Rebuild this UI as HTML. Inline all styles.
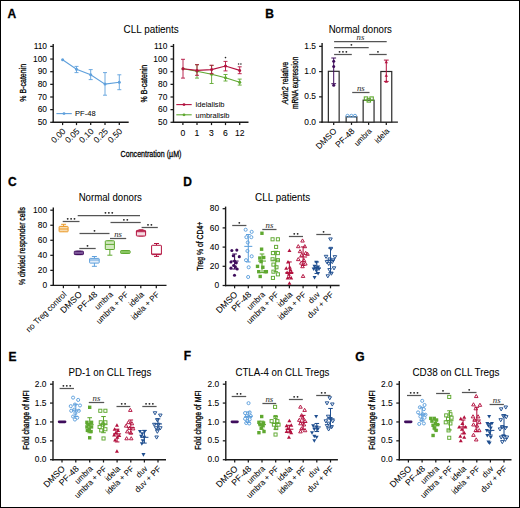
<!DOCTYPE html><html><head><meta charset="utf-8"><style>html,body{margin:0;padding:0;background:#fff;overflow:hidden}svg{display:block}</style></head><body>
<svg width="520" height="508" viewBox="0 0 520 508" font-family='"Liberation Sans", sans-serif'>
<rect x="0" y="0" width="520" height="508" fill="#fff"/>
<text x="7.4" y="17.9" font-size="12" text-anchor="start" fill="#000" stroke="#000" stroke-width="0.3" font-weight="bold">A</text>
<text x="265.3" y="18" font-size="12" text-anchor="start" fill="#000" stroke="#000" stroke-width="0.3" font-weight="bold">B</text>
<text x="7.9" y="186" font-size="12" text-anchor="start" fill="#000" stroke="#000" stroke-width="0.3" font-weight="bold">C</text>
<text x="183.2" y="186" font-size="12" text-anchor="start" fill="#000" stroke="#000" stroke-width="0.3" font-weight="bold">D</text>
<text x="8.4" y="360.6" font-size="12" text-anchor="start" fill="#000" stroke="#000" stroke-width="0.3" font-weight="bold">E</text>
<text x="183.8" y="360.4" font-size="12" text-anchor="start" fill="#000" stroke="#000" stroke-width="0.3" font-weight="bold">F</text>
<text x="355.2" y="360.9" font-size="12" text-anchor="start" fill="#000" stroke="#000" stroke-width="0.3" font-weight="bold">G</text>
<text x="151.2" y="32.9" font-size="10.2" text-anchor="middle" fill="#000" stroke="#000" stroke-width="0.04" textLength="55.2" lengthAdjust="spacingAndGlyphs">CLL patients</text>
<line x1="53.2" y1="44" x2="53.2" y2="123" stroke="#1a1a1a" stroke-width="1.4" stroke-linecap="butt"/>
<line x1="50.2" y1="122.3" x2="53.2" y2="122.3" stroke="#1a1a1a" stroke-width="1.25" stroke-linecap="butt"/>
<text x="47" y="124.9" font-size="8.4" text-anchor="end" fill="#000" stroke="#000" stroke-width="0.07">50</text>
<line x1="50.2" y1="109.65" x2="53.2" y2="109.65" stroke="#1a1a1a" stroke-width="1.25" stroke-linecap="butt"/>
<text x="47" y="112.25" font-size="8.4" text-anchor="end" fill="#000" stroke="#000" stroke-width="0.07">60</text>
<line x1="50.2" y1="97" x2="53.2" y2="97" stroke="#1a1a1a" stroke-width="1.25" stroke-linecap="butt"/>
<text x="47" y="99.6" font-size="8.4" text-anchor="end" fill="#000" stroke="#000" stroke-width="0.07">70</text>
<line x1="50.2" y1="84.35" x2="53.2" y2="84.35" stroke="#1a1a1a" stroke-width="1.25" stroke-linecap="butt"/>
<text x="47" y="86.95" font-size="8.4" text-anchor="end" fill="#000" stroke="#000" stroke-width="0.07">80</text>
<line x1="50.2" y1="71.7" x2="53.2" y2="71.7" stroke="#1a1a1a" stroke-width="1.25" stroke-linecap="butt"/>
<text x="47" y="74.3" font-size="8.4" text-anchor="end" fill="#000" stroke="#000" stroke-width="0.07">90</text>
<line x1="50.2" y1="59.05" x2="53.2" y2="59.05" stroke="#1a1a1a" stroke-width="1.25" stroke-linecap="butt"/>
<text x="47" y="61.65" font-size="8.4" text-anchor="end" fill="#000" stroke="#000" stroke-width="0.07">100</text>
<line x1="50.2" y1="46.4" x2="53.2" y2="46.4" stroke="#1a1a1a" stroke-width="1.25" stroke-linecap="butt"/>
<text x="47" y="49" font-size="8.4" text-anchor="end" fill="#000" stroke="#000" stroke-width="0.07">110</text>
<line x1="52.5" y1="122.3" x2="128.7" y2="122.3" stroke="#1a1a1a" stroke-width="1.4" stroke-linecap="butt"/>
<line x1="62.6" y1="122.3" x2="62.6" y2="125.1" stroke="#1a1a1a" stroke-width="1.25" stroke-linecap="butt"/>
<line x1="76.5" y1="122.3" x2="76.5" y2="125.1" stroke="#1a1a1a" stroke-width="1.25" stroke-linecap="butt"/>
<line x1="90.7" y1="122.3" x2="90.7" y2="125.1" stroke="#1a1a1a" stroke-width="1.25" stroke-linecap="butt"/>
<line x1="105" y1="122.3" x2="105" y2="125.1" stroke="#1a1a1a" stroke-width="1.25" stroke-linecap="butt"/>
<line x1="119.3" y1="122.3" x2="119.3" y2="125.1" stroke="#1a1a1a" stroke-width="1.25" stroke-linecap="butt"/>
<text x="66.2" y="131.9" font-size="8.5" text-anchor="end" fill="#000" stroke="#000" stroke-width="0.03" transform="rotate(-45 66.2 131.9)">0.00</text>
<text x="80.1" y="131.9" font-size="8.5" text-anchor="end" fill="#000" stroke="#000" stroke-width="0.03" transform="rotate(-45 80.1 131.9)">0.05</text>
<text x="94.3" y="131.9" font-size="8.5" text-anchor="end" fill="#000" stroke="#000" stroke-width="0.03" transform="rotate(-45 94.3 131.9)">0.10</text>
<text x="108.6" y="131.9" font-size="8.5" text-anchor="end" fill="#000" stroke="#000" stroke-width="0.03" transform="rotate(-45 108.6 131.9)">0.25</text>
<text x="122.9" y="131.9" font-size="8.5" text-anchor="end" fill="#000" stroke="#000" stroke-width="0.03" transform="rotate(-45 122.9 131.9)">0.50</text>
<text x="26.5" y="82.8" font-size="9.5" text-anchor="middle" fill="#000" stroke="#000" stroke-width="0.3" textLength="38" lengthAdjust="spacingAndGlyphs" transform="rotate(-90 26.5 82.8)">% B-catenin</text>
<polyline points="62.6,59.7 76.5,69.2 90.7,74.8 105,84.1 119.3,82.3" fill="none" stroke="#5fa0dc" stroke-width="1.1"/>
<circle cx="62.6" cy="59.7" r="1.5" fill="#5fa0dc"/>
<line x1="76.5" y1="66.4" x2="76.5" y2="72.6" stroke="#5fa0dc" stroke-width="0.9" stroke-linecap="butt"/>
<line x1="74.5" y1="66.4" x2="78.5" y2="66.4" stroke="#5fa0dc" stroke-width="0.9" stroke-linecap="butt"/>
<line x1="74.5" y1="72.6" x2="78.5" y2="72.6" stroke="#5fa0dc" stroke-width="0.9" stroke-linecap="butt"/>
<circle cx="76.5" cy="69.2" r="1.5" fill="#5fa0dc"/>
<line x1="90.7" y1="69.6" x2="90.7" y2="79.6" stroke="#5fa0dc" stroke-width="0.9" stroke-linecap="butt"/>
<line x1="88.7" y1="69.6" x2="92.7" y2="69.6" stroke="#5fa0dc" stroke-width="0.9" stroke-linecap="butt"/>
<line x1="88.7" y1="79.6" x2="92.7" y2="79.6" stroke="#5fa0dc" stroke-width="0.9" stroke-linecap="butt"/>
<circle cx="90.7" cy="74.8" r="1.5" fill="#5fa0dc"/>
<line x1="105" y1="72.6" x2="105" y2="95.2" stroke="#5fa0dc" stroke-width="0.9" stroke-linecap="butt"/>
<line x1="103" y1="72.6" x2="107" y2="72.6" stroke="#5fa0dc" stroke-width="0.9" stroke-linecap="butt"/>
<line x1="103" y1="95.2" x2="107" y2="95.2" stroke="#5fa0dc" stroke-width="0.9" stroke-linecap="butt"/>
<circle cx="105" cy="84.1" r="1.5" fill="#5fa0dc"/>
<line x1="119.3" y1="74.8" x2="119.3" y2="89.7" stroke="#5fa0dc" stroke-width="0.9" stroke-linecap="butt"/>
<line x1="117.3" y1="74.8" x2="121.3" y2="74.8" stroke="#5fa0dc" stroke-width="0.9" stroke-linecap="butt"/>
<line x1="117.3" y1="89.7" x2="121.3" y2="89.7" stroke="#5fa0dc" stroke-width="0.9" stroke-linecap="butt"/>
<circle cx="119.3" cy="82.3" r="1.5" fill="#5fa0dc"/>
<line x1="56.4" y1="113.6" x2="71.8" y2="113.6" stroke="#5fa0dc" stroke-width="1.1" stroke-linecap="butt"/>
<circle cx="64" cy="113.6" r="1.4" fill="#5fa0dc"/>
<text x="75" y="115.9" font-size="7.7" text-anchor="start" fill="#000" stroke="#000" stroke-width="0.03" textLength="20.6" lengthAdjust="spacingAndGlyphs">PF-48</text>
<line x1="173.5" y1="44" x2="173.5" y2="123" stroke="#1a1a1a" stroke-width="1.4" stroke-linecap="butt"/>
<line x1="170.5" y1="122.3" x2="173.5" y2="122.3" stroke="#1a1a1a" stroke-width="1.25" stroke-linecap="butt"/>
<text x="167.3" y="124.9" font-size="8.4" text-anchor="end" fill="#000" stroke="#000" stroke-width="0.07">50</text>
<line x1="170.5" y1="109.65" x2="173.5" y2="109.65" stroke="#1a1a1a" stroke-width="1.25" stroke-linecap="butt"/>
<text x="167.3" y="112.25" font-size="8.4" text-anchor="end" fill="#000" stroke="#000" stroke-width="0.07">60</text>
<line x1="170.5" y1="97" x2="173.5" y2="97" stroke="#1a1a1a" stroke-width="1.25" stroke-linecap="butt"/>
<text x="167.3" y="99.6" font-size="8.4" text-anchor="end" fill="#000" stroke="#000" stroke-width="0.07">70</text>
<line x1="170.5" y1="84.35" x2="173.5" y2="84.35" stroke="#1a1a1a" stroke-width="1.25" stroke-linecap="butt"/>
<text x="167.3" y="86.95" font-size="8.4" text-anchor="end" fill="#000" stroke="#000" stroke-width="0.07">80</text>
<line x1="170.5" y1="71.7" x2="173.5" y2="71.7" stroke="#1a1a1a" stroke-width="1.25" stroke-linecap="butt"/>
<text x="167.3" y="74.3" font-size="8.4" text-anchor="end" fill="#000" stroke="#000" stroke-width="0.07">90</text>
<line x1="170.5" y1="59.05" x2="173.5" y2="59.05" stroke="#1a1a1a" stroke-width="1.25" stroke-linecap="butt"/>
<text x="167.3" y="61.65" font-size="8.4" text-anchor="end" fill="#000" stroke="#000" stroke-width="0.07">100</text>
<line x1="170.5" y1="46.4" x2="173.5" y2="46.4" stroke="#1a1a1a" stroke-width="1.25" stroke-linecap="butt"/>
<text x="167.3" y="49" font-size="8.4" text-anchor="end" fill="#000" stroke="#000" stroke-width="0.07">110</text>
<line x1="172.8" y1="122.3" x2="248.5" y2="122.3" stroke="#1a1a1a" stroke-width="1.4" stroke-linecap="butt"/>
<line x1="182.9" y1="122.3" x2="182.9" y2="125.1" stroke="#1a1a1a" stroke-width="1.25" stroke-linecap="butt"/>
<line x1="197" y1="122.3" x2="197" y2="125.1" stroke="#1a1a1a" stroke-width="1.25" stroke-linecap="butt"/>
<line x1="211.5" y1="122.3" x2="211.5" y2="125.1" stroke="#1a1a1a" stroke-width="1.25" stroke-linecap="butt"/>
<line x1="225.5" y1="122.3" x2="225.5" y2="125.1" stroke="#1a1a1a" stroke-width="1.25" stroke-linecap="butt"/>
<line x1="239.7" y1="122.3" x2="239.7" y2="125.1" stroke="#1a1a1a" stroke-width="1.25" stroke-linecap="butt"/>
<text x="182.9" y="136.2" font-size="8.6" text-anchor="middle" fill="#000" stroke="#000" stroke-width="0.07">0</text>
<text x="197" y="136.2" font-size="8.6" text-anchor="middle" fill="#000" stroke="#000" stroke-width="0.07">1</text>
<text x="211.5" y="136.2" font-size="8.6" text-anchor="middle" fill="#000" stroke="#000" stroke-width="0.07">3</text>
<text x="225.5" y="136.2" font-size="8.6" text-anchor="middle" fill="#000" stroke="#000" stroke-width="0.07">6</text>
<text x="239.7" y="136.2" font-size="8.6" text-anchor="middle" fill="#000" stroke="#000" stroke-width="0.07">12</text>
<text x="146.6" y="83.6" font-size="9.5" text-anchor="middle" fill="#000" stroke="#000" stroke-width="0.3" textLength="37.6" lengthAdjust="spacingAndGlyphs" transform="rotate(-90 146.6 83.6)">% B-catenin</text>
<polyline points="183,68.8 197,71.2 211.6,74.2 225.5,77.8 239.7,82.2" fill="none" stroke="#5fa830" stroke-width="1.1"/>
<circle cx="183" cy="68.8" r="1.5" fill="#5fa830"/>
<line x1="197" y1="64.7" x2="197" y2="78.1" stroke="#5fa830" stroke-width="0.9" stroke-linecap="butt"/>
<line x1="195" y1="64.7" x2="199" y2="64.7" stroke="#5fa830" stroke-width="0.9" stroke-linecap="butt"/>
<line x1="195" y1="78.1" x2="199" y2="78.1" stroke="#5fa830" stroke-width="0.9" stroke-linecap="butt"/>
<circle cx="197" cy="71.2" r="1.5" fill="#5fa830"/>
<line x1="211.6" y1="65.5" x2="211.6" y2="83.5" stroke="#5fa830" stroke-width="0.9" stroke-linecap="butt"/>
<line x1="209.6" y1="65.5" x2="213.6" y2="65.5" stroke="#5fa830" stroke-width="0.9" stroke-linecap="butt"/>
<line x1="209.6" y1="83.5" x2="213.6" y2="83.5" stroke="#5fa830" stroke-width="0.9" stroke-linecap="butt"/>
<circle cx="211.6" cy="74.2" r="1.5" fill="#5fa830"/>
<line x1="225.5" y1="74.5" x2="225.5" y2="81" stroke="#5fa830" stroke-width="0.9" stroke-linecap="butt"/>
<line x1="223.5" y1="74.5" x2="227.5" y2="74.5" stroke="#5fa830" stroke-width="0.9" stroke-linecap="butt"/>
<line x1="223.5" y1="81" x2="227.5" y2="81" stroke="#5fa830" stroke-width="0.9" stroke-linecap="butt"/>
<circle cx="225.5" cy="77.8" r="1.5" fill="#5fa830"/>
<line x1="239.7" y1="79.1" x2="239.7" y2="85.1" stroke="#5fa830" stroke-width="0.9" stroke-linecap="butt"/>
<line x1="237.7" y1="79.1" x2="241.7" y2="79.1" stroke="#5fa830" stroke-width="0.9" stroke-linecap="butt"/>
<line x1="237.7" y1="85.1" x2="241.7" y2="85.1" stroke="#5fa830" stroke-width="0.9" stroke-linecap="butt"/>
<circle cx="239.7" cy="82.2" r="1.5" fill="#5fa830"/>
<polyline points="183,68.8 197,70.4 211.6,69.6 225.5,66 239.7,70.4" fill="none" stroke="#b3123f" stroke-width="1.1"/>
<line x1="183" y1="59.3" x2="183" y2="78.1" stroke="#b3123f" stroke-width="0.9" stroke-linecap="butt"/>
<line x1="181" y1="59.3" x2="185" y2="59.3" stroke="#b3123f" stroke-width="0.9" stroke-linecap="butt"/>
<line x1="181" y1="78.1" x2="185" y2="78.1" stroke="#b3123f" stroke-width="0.9" stroke-linecap="butt"/>
<circle cx="183" cy="68.8" r="1.5" fill="#b3123f"/>
<line x1="197" y1="64.7" x2="197" y2="75.3" stroke="#b3123f" stroke-width="0.9" stroke-linecap="butt"/>
<line x1="195" y1="64.7" x2="199" y2="64.7" stroke="#b3123f" stroke-width="0.9" stroke-linecap="butt"/>
<line x1="195" y1="75.3" x2="199" y2="75.3" stroke="#b3123f" stroke-width="0.9" stroke-linecap="butt"/>
<circle cx="197" cy="70.4" r="1.5" fill="#b3123f"/>
<line x1="211.6" y1="65.2" x2="211.6" y2="73.7" stroke="#b3123f" stroke-width="0.9" stroke-linecap="butt"/>
<line x1="209.6" y1="65.2" x2="213.6" y2="65.2" stroke="#b3123f" stroke-width="0.9" stroke-linecap="butt"/>
<line x1="209.6" y1="73.7" x2="213.6" y2="73.7" stroke="#b3123f" stroke-width="0.9" stroke-linecap="butt"/>
<circle cx="211.6" cy="69.6" r="1.5" fill="#b3123f"/>
<line x1="225.5" y1="61.4" x2="225.5" y2="70.9" stroke="#b3123f" stroke-width="0.9" stroke-linecap="butt"/>
<line x1="223.5" y1="61.4" x2="227.5" y2="61.4" stroke="#b3123f" stroke-width="0.9" stroke-linecap="butt"/>
<line x1="223.5" y1="70.9" x2="227.5" y2="70.9" stroke="#b3123f" stroke-width="0.9" stroke-linecap="butt"/>
<circle cx="225.5" cy="66" r="1.5" fill="#b3123f"/>
<line x1="239.7" y1="66.8" x2="239.7" y2="73.7" stroke="#b3123f" stroke-width="0.9" stroke-linecap="butt"/>
<line x1="237.7" y1="66.8" x2="241.7" y2="66.8" stroke="#b3123f" stroke-width="0.9" stroke-linecap="butt"/>
<line x1="237.7" y1="73.7" x2="241.7" y2="73.7" stroke="#b3123f" stroke-width="0.9" stroke-linecap="butt"/>
<circle cx="239.7" cy="70.4" r="1.5" fill="#b3123f"/>
<circle cx="225.5" cy="57.6" r="0.8" fill="#222"/>
<circle cx="238.6" cy="64" r="0.8" fill="#222"/><circle cx="240.9" cy="64" r="0.8" fill="#222"/>
<line x1="176.3" y1="104.6" x2="191.7" y2="104.6" stroke="#b3123f" stroke-width="1.1" stroke-linecap="butt"/>
<circle cx="184" cy="104.6" r="1.4" fill="#b3123f"/>
<text x="195.6" y="107.4" font-size="7.8" text-anchor="start" fill="#000" stroke="#000" stroke-width="0.03" textLength="28.9" lengthAdjust="spacingAndGlyphs">idelalisib</text>
<line x1="176.3" y1="114.8" x2="191.7" y2="114.8" stroke="#5fa830" stroke-width="1.1" stroke-linecap="butt"/>
<circle cx="184" cy="114.8" r="1.4" fill="#5fa830"/>
<text x="195.6" y="117.6" font-size="7.8" text-anchor="start" fill="#000" stroke="#000" stroke-width="0.03" textLength="33.9" lengthAdjust="spacingAndGlyphs">umbralisib</text>
<text x="151" y="157.2" font-size="9.9" text-anchor="middle" fill="#000" stroke="#000" stroke-width="0.3" textLength="60.8" lengthAdjust="spacingAndGlyphs">Concentration (µM)</text>
<text x="360.3" y="32.7" font-size="10.2" text-anchor="middle" fill="#000" stroke="#000" stroke-width="0.04" textLength="63.3" lengthAdjust="spacingAndGlyphs">Normal donors</text>
<line x1="322.1" y1="43" x2="322.1" y2="122.8" stroke="#1a1a1a" stroke-width="1.4" stroke-linecap="butt"/>
<line x1="319.1" y1="122.1" x2="322.1" y2="122.1" stroke="#1a1a1a" stroke-width="1.25" stroke-linecap="butt"/>
<text x="315.9" y="124.7" font-size="8.4" text-anchor="end" fill="#000" stroke="#000" stroke-width="0.07">0.0</text>
<line x1="319.1" y1="96.85" x2="322.1" y2="96.85" stroke="#1a1a1a" stroke-width="1.25" stroke-linecap="butt"/>
<text x="315.9" y="99.45" font-size="8.4" text-anchor="end" fill="#000" stroke="#000" stroke-width="0.07">0.5</text>
<line x1="319.1" y1="71.6" x2="322.1" y2="71.6" stroke="#1a1a1a" stroke-width="1.25" stroke-linecap="butt"/>
<text x="315.9" y="74.2" font-size="8.4" text-anchor="end" fill="#000" stroke="#000" stroke-width="0.07">1.0</text>
<line x1="319.1" y1="46.35" x2="322.1" y2="46.35" stroke="#1a1a1a" stroke-width="1.25" stroke-linecap="butt"/>
<text x="315.9" y="48.95" font-size="8.4" text-anchor="end" fill="#000" stroke="#000" stroke-width="0.07">1.5</text>
<line x1="321.4" y1="122.1" x2="397.9" y2="122.1" stroke="#1a1a1a" stroke-width="1.4" stroke-linecap="butt"/>
<line x1="333.7" y1="122.1" x2="333.7" y2="124.9" stroke="#1a1a1a" stroke-width="1.25" stroke-linecap="butt"/>
<line x1="351.5" y1="122.1" x2="351.5" y2="124.9" stroke="#1a1a1a" stroke-width="1.25" stroke-linecap="butt"/>
<line x1="368.6" y1="122.1" x2="368.6" y2="124.9" stroke="#1a1a1a" stroke-width="1.25" stroke-linecap="butt"/>
<line x1="386.3" y1="122.1" x2="386.3" y2="124.9" stroke="#1a1a1a" stroke-width="1.25" stroke-linecap="butt"/>
<text x="337.3" y="131.7" font-size="8.5" text-anchor="end" fill="#000" stroke="#000" stroke-width="0.03" transform="rotate(-45 337.3 131.7)">DMSO</text>
<text x="355.1" y="131.7" font-size="8.5" text-anchor="end" fill="#000" stroke="#000" stroke-width="0.03" transform="rotate(-45 355.1 131.7)">PF-48</text>
<text x="372.2" y="131.7" font-size="8.02" text-anchor="end" fill="#000" stroke="#000" stroke-width="0.03" textLength="20.9" lengthAdjust="spacingAndGlyphs" transform="rotate(-45 372.2 131.7)">umbra</text>
<text x="389.9" y="131.7" font-size="8.02" text-anchor="end" fill="#000" stroke="#000" stroke-width="0.03" textLength="16.94" lengthAdjust="spacingAndGlyphs" transform="rotate(-45 389.9 131.7)">idela</text>
<text font-size="9.2" fill="#000" stroke="#000" stroke-width="0.3" text-anchor="middle" transform="translate(288.2 83.0) rotate(-90)" textLength="42.5" lengthAdjust="spacingAndGlyphs"><tspan font-style="italic">Axin2</tspan> relative</text>
<text x="298.3" y="82.8" font-size="8.8" text-anchor="middle" fill="#000" stroke="#000" stroke-width="0.3" textLength="52.3" lengthAdjust="spacingAndGlyphs" transform="rotate(-90 298.3 82.8)">mRNA expression</text>
<rect x="328.35" y="71.3" width="10.8" height="50.8" fill="#fff" stroke="#2a2a2a" stroke-width="1.2"/>
<rect x="346.15" y="116.8" width="10.7" height="5.3" fill="#fff" stroke="#2a2a2a" stroke-width="1.2"/>
<rect x="363.15" y="100.2" width="10.9" height="21.9" fill="#fff" stroke="#2a2a2a" stroke-width="1.2"/>
<rect x="380.85" y="71.5" width="10.9" height="50.6" fill="#fff" stroke="#2a2a2a" stroke-width="1.2"/>
<line x1="333.7" y1="58" x2="333.7" y2="83.7" stroke="#3f0d5c" stroke-width="1.0" stroke-linecap="butt"/>
<line x1="331.3" y1="58" x2="336.1" y2="58" stroke="#3f0d5c" stroke-width="1.0" stroke-linecap="butt"/>
<line x1="331.3" y1="83.7" x2="336.1" y2="83.7" stroke="#3f0d5c" stroke-width="1.0" stroke-linecap="butt"/>
<circle cx="333.7" cy="61.2" r="1.5" fill="#3f0d5c"/>
<circle cx="333.7" cy="66.5" r="1.5" fill="#3f0d5c"/>
<circle cx="333.7" cy="85.3" r="1.5" fill="#3f0d5c"/>
<line x1="386.3" y1="60.1" x2="386.3" y2="81.4" stroke="#b3123f" stroke-width="1.0" stroke-linecap="butt"/>
<line x1="383.9" y1="60.1" x2="388.7" y2="60.1" stroke="#b3123f" stroke-width="1.0" stroke-linecap="butt"/>
<line x1="383.9" y1="81.4" x2="388.7" y2="81.4" stroke="#b3123f" stroke-width="1.0" stroke-linecap="butt"/>
<polygon points="386.3,60.35 387.95,63.24 384.65,63.24" fill="#b3123f"/>
<polygon points="386.3,73.75 387.95,76.64 384.65,76.64" fill="#b3123f"/>
<polygon points="386.3,79.75 387.95,82.64 384.65,82.64" fill="#b3123f"/>
<circle cx="347.5" cy="115.8" r="1.55" fill="none" stroke="#5fa0dc" stroke-width="0.95"/>
<circle cx="351.4" cy="115.8" r="1.55" fill="none" stroke="#5fa0dc" stroke-width="0.95"/>
<circle cx="355" cy="115.8" r="1.55" fill="none" stroke="#5fa0dc" stroke-width="0.95"/>
<rect x="364.3" y="96.9" width="3.4" height="3.4" fill="none" stroke="#5fa830" stroke-width="1.1"/>
<rect x="369.9" y="96.9" width="3.4" height="3.4" fill="none" stroke="#5fa830" stroke-width="1.1"/>
<rect x="367.1" y="98.7" width="3.4" height="3.4" fill="none" stroke="#5fa830" stroke-width="1.1"/>
<line x1="334.1" y1="41.5" x2="386.7" y2="41.5" stroke="#555555" stroke-width="1.25" stroke-linecap="butt"/>
<text x="360.4" y="39.5" font-size="8.8" text-anchor="middle" font-family="Liberation Serif, serif" font-style="italic" fill="#333" stroke="#333" stroke-width="0.05">ns</text>
<line x1="334.1" y1="47.5" x2="368.7" y2="47.5" stroke="#555555" stroke-width="1.25" stroke-linecap="butt"/>
<circle cx="351.4" cy="44.8" r="0.92" fill="#222"/>
<line x1="334.1" y1="54.5" x2="351.8" y2="54.5" stroke="#555555" stroke-width="1.25" stroke-linecap="butt"/>
<circle cx="339.55" cy="51.8" r="0.92" fill="#222"/>
<circle cx="342.95" cy="51.8" r="0.92" fill="#222"/>
<circle cx="346.35" cy="51.8" r="0.92" fill="#222"/>
<line x1="369.2" y1="54.5" x2="386.7" y2="54.5" stroke="#555555" stroke-width="1.25" stroke-linecap="butt"/>
<circle cx="377.95" cy="51.8" r="0.92" fill="#222"/>
<line x1="352.2" y1="92.5" x2="369.5" y2="92.5" stroke="#555555" stroke-width="1.25" stroke-linecap="butt"/>
<text x="360.85" y="90.5" font-size="8.8" text-anchor="middle" font-family="Liberation Serif, serif" font-style="italic" fill="#333" stroke="#333" stroke-width="0.05">ns</text>
<text x="110.3" y="200.7" font-size="10.2" text-anchor="middle" fill="#000" stroke="#000" stroke-width="0.04" textLength="63.3" lengthAdjust="spacingAndGlyphs">Normal donors</text>
<line x1="53.3" y1="207.5" x2="53.3" y2="286.1" stroke="#1a1a1a" stroke-width="1.4" stroke-linecap="butt"/>
<line x1="50.3" y1="285.4" x2="53.3" y2="285.4" stroke="#1a1a1a" stroke-width="1.25" stroke-linecap="butt"/>
<text x="47.1" y="288" font-size="8.4" text-anchor="end" fill="#000" stroke="#000" stroke-width="0.07">0</text>
<line x1="50.3" y1="270.36" x2="53.3" y2="270.36" stroke="#1a1a1a" stroke-width="1.25" stroke-linecap="butt"/>
<text x="47.1" y="272.96" font-size="8.4" text-anchor="end" fill="#000" stroke="#000" stroke-width="0.07">20</text>
<line x1="50.3" y1="255.32" x2="53.3" y2="255.32" stroke="#1a1a1a" stroke-width="1.25" stroke-linecap="butt"/>
<text x="47.1" y="257.92" font-size="8.4" text-anchor="end" fill="#000" stroke="#000" stroke-width="0.07">40</text>
<line x1="50.3" y1="240.28" x2="53.3" y2="240.28" stroke="#1a1a1a" stroke-width="1.25" stroke-linecap="butt"/>
<text x="47.1" y="242.88" font-size="8.4" text-anchor="end" fill="#000" stroke="#000" stroke-width="0.07">60</text>
<line x1="50.3" y1="225.24" x2="53.3" y2="225.24" stroke="#1a1a1a" stroke-width="1.25" stroke-linecap="butt"/>
<text x="47.1" y="227.84" font-size="8.4" text-anchor="end" fill="#000" stroke="#000" stroke-width="0.07">80</text>
<line x1="50.3" y1="210.2" x2="53.3" y2="210.2" stroke="#1a1a1a" stroke-width="1.25" stroke-linecap="butt"/>
<text x="47.1" y="212.8" font-size="8.4" text-anchor="end" fill="#000" stroke="#000" stroke-width="0.07">100</text>
<line x1="52.6" y1="285.4" x2="166.5" y2="285.4" stroke="#1a1a1a" stroke-width="1.4" stroke-linecap="butt"/>
<line x1="63.4" y1="285.4" x2="63.4" y2="288.2" stroke="#1a1a1a" stroke-width="1.25" stroke-linecap="butt"/>
<line x1="78.9" y1="285.4" x2="78.9" y2="288.2" stroke="#1a1a1a" stroke-width="1.25" stroke-linecap="butt"/>
<line x1="94.4" y1="285.4" x2="94.4" y2="288.2" stroke="#1a1a1a" stroke-width="1.25" stroke-linecap="butt"/>
<line x1="109.8" y1="285.4" x2="109.8" y2="288.2" stroke="#1a1a1a" stroke-width="1.25" stroke-linecap="butt"/>
<line x1="125.3" y1="285.4" x2="125.3" y2="288.2" stroke="#1a1a1a" stroke-width="1.25" stroke-linecap="butt"/>
<line x1="140.8" y1="285.4" x2="140.8" y2="288.2" stroke="#1a1a1a" stroke-width="1.25" stroke-linecap="butt"/>
<line x1="156.3" y1="285.4" x2="156.3" y2="288.2" stroke="#1a1a1a" stroke-width="1.25" stroke-linecap="butt"/>
<text x="67" y="295" font-size="8.3" text-anchor="end" fill="#000" stroke="#000" stroke-width="0.03" textLength="53.42" lengthAdjust="spacingAndGlyphs" transform="rotate(-45 67 295)">no Treg control</text>
<text x="82.5" y="295" font-size="8.8" text-anchor="end" fill="#000" stroke="#000" stroke-width="0.03" transform="rotate(-45 82.5 295)">DMSO</text>
<text x="98" y="295" font-size="8.8" text-anchor="end" fill="#000" stroke="#000" stroke-width="0.03" transform="rotate(-45 98 295)">PF-48</text>
<text x="113.4" y="295" font-size="8.3" text-anchor="end" fill="#000" stroke="#000" stroke-width="0.03" textLength="21.64" lengthAdjust="spacingAndGlyphs" transform="rotate(-45 113.4 295)">umbra</text>
<text x="128.9" y="295" font-size="8.3" text-anchor="end" fill="#000" stroke="#000" stroke-width="0.03" textLength="41.62" lengthAdjust="spacingAndGlyphs" transform="rotate(-45 128.9 295)">umbra + PF</text>
<text x="144.4" y="295" font-size="8.3" text-anchor="end" fill="#000" stroke="#000" stroke-width="0.03" textLength="17.53" lengthAdjust="spacingAndGlyphs" transform="rotate(-45 144.4 295)">idela</text>
<text x="159.9" y="295" font-size="8.3" text-anchor="end" fill="#000" stroke="#000" stroke-width="0.03" textLength="35.9" lengthAdjust="spacingAndGlyphs" transform="rotate(-45 159.9 295)">idela + PF</text>
<text x="25.3" y="246" font-size="8.8" text-anchor="middle" fill="#000" stroke="#000" stroke-width="0.3" textLength="78" lengthAdjust="spacingAndGlyphs" transform="rotate(-90 25.3 246)">% divided responder cells</text>
<line x1="63.6" y1="224.3" x2="63.6" y2="226.4" stroke="#eb9a2a" stroke-width="1.0" stroke-linecap="butt"/>
<line x1="63.6" y1="231.8" x2="63.6" y2="226.4" stroke="#eb9a2a" stroke-width="1.0" stroke-linecap="butt"/>
<line x1="61.1" y1="224.3" x2="66.1" y2="224.3" stroke="#eb9a2a" stroke-width="1.0" stroke-linecap="butt"/>
<line x1="61.1" y1="226.4" x2="66.1" y2="226.4" stroke="#eb9a2a" stroke-width="1.0" stroke-linecap="butt"/>
<rect x="59.1" y="226.4" width="9" height="5.4" fill="#f8dcb0" stroke="#eb9a2a" stroke-width="1.0" rx="0.6"/>
<line x1="59.2" y1="229" x2="68" y2="229" stroke="#eb9a2a" stroke-width="1.0" stroke-linecap="butt"/>
<line x1="78.85" y1="251.2" x2="78.85" y2="251.2" stroke="#3f0d5c" stroke-width="1.0" stroke-linecap="butt"/>
<line x1="78.85" y1="254.6" x2="78.85" y2="254.6" stroke="#3f0d5c" stroke-width="1.0" stroke-linecap="butt"/>
<line x1="76.35" y1="251.2" x2="81.35" y2="251.2" stroke="#3f0d5c" stroke-width="1.0" stroke-linecap="butt"/>
<line x1="76.35" y1="254.6" x2="81.35" y2="254.6" stroke="#3f0d5c" stroke-width="1.0" stroke-linecap="butt"/>
<rect x="74.3" y="251.2" width="9.1" height="3.4" fill="#6a3d88" stroke="#3f0d5c" stroke-width="1.0" rx="0.6"/>
<line x1="74.4" y1="252.9" x2="83.3" y2="252.9" stroke="#8c6aa6" stroke-width="1.0" stroke-linecap="butt"/>
<line x1="94.4" y1="256.5" x2="94.4" y2="258.4" stroke="#5fa0dc" stroke-width="1.0" stroke-linecap="butt"/>
<line x1="94.4" y1="263.1" x2="94.4" y2="266.3" stroke="#5fa0dc" stroke-width="1.0" stroke-linecap="butt"/>
<line x1="91.9" y1="256.5" x2="96.9" y2="256.5" stroke="#5fa0dc" stroke-width="1.0" stroke-linecap="butt"/>
<line x1="91.9" y1="266.3" x2="96.9" y2="266.3" stroke="#5fa0dc" stroke-width="1.0" stroke-linecap="butt"/>
<rect x="89.6" y="258.4" width="9.6" height="4.7" fill="#e4eefa" stroke="#5fa0dc" stroke-width="1.0" rx="0.6"/>
<line x1="89.7" y1="260" x2="99.1" y2="260" stroke="#5fa0dc" stroke-width="1.0" stroke-linecap="butt"/>
<line x1="109.85" y1="240.8" x2="109.85" y2="240.8" stroke="#5fa830" stroke-width="1.0" stroke-linecap="butt"/>
<line x1="109.85" y1="249.5" x2="109.85" y2="255.2" stroke="#5fa830" stroke-width="1.0" stroke-linecap="butt"/>
<line x1="107.35" y1="240.8" x2="112.35" y2="240.8" stroke="#5fa830" stroke-width="1.0" stroke-linecap="butt"/>
<line x1="107.35" y1="255.2" x2="112.35" y2="255.2" stroke="#5fa830" stroke-width="1.0" stroke-linecap="butt"/>
<rect x="105.3" y="240.8" width="9.1" height="8.7" fill="#d3e9c0" stroke="#5fa830" stroke-width="1.0" rx="0.6"/>
<line x1="105.4" y1="244.4" x2="114.3" y2="244.4" stroke="#5fa830" stroke-width="1.0" stroke-linecap="butt"/>
<line x1="125.35" y1="250.6" x2="125.35" y2="250.6" stroke="#5fa830" stroke-width="1.0" stroke-linecap="butt"/>
<line x1="125.35" y1="253.4" x2="125.35" y2="253.4" stroke="#5fa830" stroke-width="1.0" stroke-linecap="butt"/>
<line x1="122.85" y1="250.6" x2="127.85" y2="250.6" stroke="#5fa830" stroke-width="1.0" stroke-linecap="butt"/>
<line x1="122.85" y1="253.4" x2="127.85" y2="253.4" stroke="#5fa830" stroke-width="1.0" stroke-linecap="butt"/>
<rect x="120.6" y="250.6" width="9.5" height="2.8" fill="#6db53c" stroke="#5fa830" stroke-width="1.0" rx="0.6"/>
<line x1="120.7" y1="252" x2="130" y2="252" stroke="#a8d88a" stroke-width="1.0" stroke-linecap="butt"/>
<line x1="141" y1="229.8" x2="141" y2="230.4" stroke="#b3123f" stroke-width="1.0" stroke-linecap="butt"/>
<line x1="141" y1="236" x2="141" y2="236" stroke="#b3123f" stroke-width="1.0" stroke-linecap="butt"/>
<line x1="138.5" y1="229.8" x2="143.5" y2="229.8" stroke="#b3123f" stroke-width="1.0" stroke-linecap="butt"/>
<line x1="138.5" y1="236" x2="143.5" y2="236" stroke="#b3123f" stroke-width="1.0" stroke-linecap="butt"/>
<rect x="136.4" y="230.4" width="9.2" height="5.6" fill="#f6dbe2" stroke="#b3123f" stroke-width="1.0" rx="0.6"/>
<line x1="136.5" y1="231.7" x2="145.5" y2="231.7" stroke="#b3123f" stroke-width="1.0" stroke-linecap="butt"/>
<line x1="156.5" y1="243.5" x2="156.5" y2="245.3" stroke="#b3123f" stroke-width="1.0" stroke-linecap="butt"/>
<line x1="156.5" y1="254.6" x2="156.5" y2="256.4" stroke="#b3123f" stroke-width="1.0" stroke-linecap="butt"/>
<line x1="154" y1="243.5" x2="159" y2="243.5" stroke="#b3123f" stroke-width="1.0" stroke-linecap="butt"/>
<line x1="154" y1="256.4" x2="159" y2="256.4" stroke="#b3123f" stroke-width="1.0" stroke-linecap="butt"/>
<rect x="151.6" y="245.3" width="9.8" height="9.3" fill="#ffffff" stroke="#b3123f" stroke-width="1.0" rx="0.6"/>
<line x1="151.7" y1="254" x2="161.3" y2="254" stroke="#b3123f" stroke-width="1.0" stroke-linecap="butt"/>
<line x1="62.7" y1="221.5" x2="79.5" y2="221.5" stroke="#555555" stroke-width="1.25" stroke-linecap="butt"/>
<circle cx="67.7" cy="218.8" r="0.92" fill="#222"/>
<circle cx="71.1" cy="218.8" r="0.92" fill="#222"/>
<circle cx="74.5" cy="218.8" r="0.92" fill="#222"/>
<line x1="77.7" y1="215.5" x2="140" y2="215.5" stroke="#555555" stroke-width="1.25" stroke-linecap="butt"/>
<circle cx="105.45" cy="212.8" r="0.92" fill="#222"/>
<circle cx="108.85" cy="212.8" r="0.92" fill="#222"/>
<circle cx="112.25" cy="212.8" r="0.92" fill="#222"/>
<line x1="110.5" y1="222.5" x2="140.7" y2="222.5" stroke="#555555" stroke-width="1.25" stroke-linecap="butt"/>
<circle cx="123.9" cy="219.8" r="0.92" fill="#222"/>
<circle cx="127.3" cy="219.8" r="0.92" fill="#222"/>
<line x1="141.6" y1="227.5" x2="157.8" y2="227.5" stroke="#555555" stroke-width="1.25" stroke-linecap="butt"/>
<circle cx="148" cy="224.8" r="0.92" fill="#222"/>
<circle cx="151.4" cy="224.8" r="0.92" fill="#222"/>
<line x1="79.5" y1="233.5" x2="109.5" y2="233.5" stroke="#555555" stroke-width="1.25" stroke-linecap="butt"/>
<circle cx="94.5" cy="230.8" r="0.92" fill="#222"/>
<line x1="110" y1="238.5" x2="126.2" y2="238.5" stroke="#555555" stroke-width="1.25" stroke-linecap="butt"/>
<text x="118.1" y="236.5" font-size="8.8" text-anchor="middle" font-family="Liberation Serif, serif" font-style="italic" fill="#333" stroke="#333" stroke-width="0.05">ns</text>
<line x1="79.3" y1="248.5" x2="95.7" y2="248.5" stroke="#555555" stroke-width="1.25" stroke-linecap="butt"/>
<circle cx="87.5" cy="245.8" r="0.92" fill="#222"/>
<text x="282.7" y="201.1" font-size="10.2" text-anchor="middle" fill="#000" stroke="#000" stroke-width="0.04" textLength="55.2" lengthAdjust="spacingAndGlyphs">CLL patients</text>
<line x1="225.6" y1="206.6" x2="225.6" y2="286.2" stroke="#1a1a1a" stroke-width="1.4" stroke-linecap="butt"/>
<line x1="222.6" y1="285.5" x2="225.6" y2="285.5" stroke="#1a1a1a" stroke-width="1.25" stroke-linecap="butt"/>
<text x="219.2" y="288.1" font-size="8.4" text-anchor="end" fill="#000" stroke="#000" stroke-width="0.07">0</text>
<line x1="222.6" y1="266.3" x2="225.6" y2="266.3" stroke="#1a1a1a" stroke-width="1.25" stroke-linecap="butt"/>
<text x="219.2" y="268.9" font-size="8.4" text-anchor="end" fill="#000" stroke="#000" stroke-width="0.07">20</text>
<line x1="222.6" y1="247.1" x2="225.6" y2="247.1" stroke="#1a1a1a" stroke-width="1.25" stroke-linecap="butt"/>
<text x="219.2" y="249.7" font-size="8.4" text-anchor="end" fill="#000" stroke="#000" stroke-width="0.07">40</text>
<line x1="222.6" y1="227.9" x2="225.6" y2="227.9" stroke="#1a1a1a" stroke-width="1.25" stroke-linecap="butt"/>
<text x="219.2" y="230.5" font-size="8.4" text-anchor="end" fill="#000" stroke="#000" stroke-width="0.07">60</text>
<line x1="222.6" y1="208.7" x2="225.6" y2="208.7" stroke="#1a1a1a" stroke-width="1.25" stroke-linecap="butt"/>
<text x="219.2" y="211.3" font-size="8.4" text-anchor="end" fill="#000" stroke="#000" stroke-width="0.07">80</text>
<line x1="224.9" y1="285.5" x2="339.6" y2="285.5" stroke="#1a1a1a" stroke-width="1.4" stroke-linecap="butt"/>
<line x1="234.6" y1="285.5" x2="234.6" y2="288.3" stroke="#1a1a1a" stroke-width="1.25" stroke-linecap="butt"/>
<line x1="248.3" y1="285.5" x2="248.3" y2="288.3" stroke="#1a1a1a" stroke-width="1.25" stroke-linecap="butt"/>
<line x1="262" y1="285.5" x2="262" y2="288.3" stroke="#1a1a1a" stroke-width="1.25" stroke-linecap="butt"/>
<line x1="275.7" y1="285.5" x2="275.7" y2="288.3" stroke="#1a1a1a" stroke-width="1.25" stroke-linecap="butt"/>
<line x1="289.4" y1="285.5" x2="289.4" y2="288.3" stroke="#1a1a1a" stroke-width="1.25" stroke-linecap="butt"/>
<line x1="303.1" y1="285.5" x2="303.1" y2="288.3" stroke="#1a1a1a" stroke-width="1.25" stroke-linecap="butt"/>
<line x1="316.8" y1="285.5" x2="316.8" y2="288.3" stroke="#1a1a1a" stroke-width="1.25" stroke-linecap="butt"/>
<line x1="330.5" y1="285.5" x2="330.5" y2="288.3" stroke="#1a1a1a" stroke-width="1.25" stroke-linecap="butt"/>
<text x="238.2" y="295.1" font-size="8.8" text-anchor="end" fill="#000" stroke="#000" stroke-width="0.03" transform="rotate(-45 238.2 295.1)">DMSO</text>
<text x="251.9" y="295.1" font-size="8.8" text-anchor="end" fill="#000" stroke="#000" stroke-width="0.03" transform="rotate(-45 251.9 295.1)">PF-48</text>
<text x="265.6" y="295.1" font-size="8.3" text-anchor="end" fill="#000" stroke="#000" stroke-width="0.03" textLength="21.64" lengthAdjust="spacingAndGlyphs" transform="rotate(-45 265.6 295.1)">umbra</text>
<text x="279.3" y="295.1" font-size="8.3" text-anchor="end" fill="#000" stroke="#000" stroke-width="0.03" textLength="41.62" lengthAdjust="spacingAndGlyphs" transform="rotate(-45 279.3 295.1)">umbra + PF</text>
<text x="293" y="295.1" font-size="8.3" text-anchor="end" fill="#000" stroke="#000" stroke-width="0.03" textLength="17.53" lengthAdjust="spacingAndGlyphs" transform="rotate(-45 293 295.1)">idela</text>
<text x="306.7" y="295.1" font-size="8.3" text-anchor="end" fill="#000" stroke="#000" stroke-width="0.03" textLength="35.9" lengthAdjust="spacingAndGlyphs" transform="rotate(-45 306.7 295.1)">idela + PF</text>
<text x="320.4" y="295.1" font-size="8.3" text-anchor="end" fill="#000" stroke="#000" stroke-width="0.03" textLength="12.51" lengthAdjust="spacingAndGlyphs" transform="rotate(-45 320.4 295.1)">duv</text>
<text x="334.1" y="295.1" font-size="8.3" text-anchor="end" fill="#000" stroke="#000" stroke-width="0.03" textLength="33.44" lengthAdjust="spacingAndGlyphs" transform="rotate(-45 334.1 295.1)">duv + PF</text>
<text x="203.2" y="246.2" font-size="8.8" text-anchor="middle" fill="#000" stroke="#000" stroke-width="0.3" textLength="49" lengthAdjust="spacingAndGlyphs" transform="rotate(-90 203.2 246.2)">Treg % of CD4+</text>
<circle cx="231.86" cy="250.44" r="1.55" fill="#3f0d5c"/>
<circle cx="236.81" cy="250.09" r="1.55" fill="#3f0d5c"/>
<circle cx="233.27" cy="255.75" r="1.55" fill="#3f0d5c"/>
<circle cx="239.29" cy="256.64" r="1.55" fill="#3f0d5c"/>
<circle cx="230.97" cy="261.95" r="1.55" fill="#3f0d5c"/>
<circle cx="234.51" cy="261.06" r="1.55" fill="#3f0d5c"/>
<circle cx="236.28" cy="262.83" r="1.55" fill="#3f0d5c"/>
<circle cx="233.63" cy="265.49" r="1.55" fill="#3f0d5c"/>
<circle cx="230.97" cy="268.14" r="1.55" fill="#3f0d5c"/>
<circle cx="237.17" cy="269.03" r="1.55" fill="#3f0d5c"/>
<circle cx="235.4" cy="266.9" r="1.55" fill="#3f0d5c"/>
<circle cx="234.51" cy="275.22" r="1.55" fill="#3f0d5c"/>
<line x1="234.6" y1="253.98" x2="234.6" y2="269.03" stroke="#3f0d5c" stroke-width="1.05" stroke-linecap="butt"/>
<line x1="230.6" y1="261.06" x2="238.6" y2="261.06" stroke="#3f0d5c" stroke-width="1.05" stroke-linecap="butt"/>
<line x1="232.3" y1="253.98" x2="236.9" y2="253.98" stroke="#3f0d5c" stroke-width="1.05" stroke-linecap="butt"/>
<line x1="232.3" y1="269.03" x2="236.9" y2="269.03" stroke="#3f0d5c" stroke-width="1.05" stroke-linecap="butt"/>
<circle cx="245.66" cy="229.73" r="1.55" fill="none" stroke="#5fa0dc" stroke-width="0.95"/>
<circle cx="251.68" cy="231.86" r="1.55" fill="none" stroke="#5fa0dc" stroke-width="0.95"/>
<circle cx="246.37" cy="237.17" r="1.55" fill="none" stroke="#5fa0dc" stroke-width="0.95"/>
<circle cx="251.33" cy="237.17" r="1.55" fill="none" stroke="#5fa0dc" stroke-width="0.95"/>
<circle cx="247.79" cy="242.48" r="1.55" fill="none" stroke="#5fa0dc" stroke-width="0.95"/>
<circle cx="247.43" cy="250.97" r="1.55" fill="none" stroke="#5fa0dc" stroke-width="0.95"/>
<circle cx="251.68" cy="256.28" r="1.55" fill="none" stroke="#5fa0dc" stroke-width="0.95"/>
<circle cx="246.02" cy="260.18" r="1.55" fill="none" stroke="#5fa0dc" stroke-width="0.95"/>
<circle cx="248.67" cy="267.26" r="1.55" fill="none" stroke="#5fa0dc" stroke-width="0.95"/>
<circle cx="248.14" cy="276.99" r="1.55" fill="none" stroke="#5fa0dc" stroke-width="0.95"/>
<line x1="248.3" y1="234.51" x2="248.3" y2="261.95" stroke="#5fa0dc" stroke-width="1.05" stroke-linecap="butt"/>
<line x1="244.3" y1="246.37" x2="252.3" y2="246.37" stroke="#5fa0dc" stroke-width="1.05" stroke-linecap="butt"/>
<line x1="246" y1="234.51" x2="250.6" y2="234.51" stroke="#5fa0dc" stroke-width="1.05" stroke-linecap="butt"/>
<line x1="246" y1="261.95" x2="250.6" y2="261.95" stroke="#5fa0dc" stroke-width="1.05" stroke-linecap="butt"/>
<rect x="260.25" y="231.57" width="3.4" height="3.4" fill="#5fa830"/>
<rect x="259.89" y="247.5" width="3.4" height="3.4" fill="#5fa830"/>
<rect x="258.12" y="256.35" width="3.4" height="3.4" fill="#5fa830"/>
<rect x="262.02" y="255.82" width="3.4" height="3.4" fill="#5fa830"/>
<rect x="259.36" y="259.89" width="3.4" height="3.4" fill="#5fa830"/>
<rect x="255.82" y="264.67" width="3.4" height="3.4" fill="#5fa830"/>
<rect x="261.13" y="265.56" width="3.4" height="3.4" fill="#5fa830"/>
<rect x="257.06" y="269.98" width="3.4" height="3.4" fill="#5fa830"/>
<rect x="263.43" y="269.98" width="3.4" height="3.4" fill="#5fa830"/>
<rect x="258.48" y="274.76" width="3.4" height="3.4" fill="#5fa830"/>
<rect x="264.67" y="269.98" width="3.4" height="3.4" fill="#5fa830"/>
<line x1="262" y1="253.98" x2="262" y2="272.57" stroke="#5fa830" stroke-width="1.05" stroke-linecap="butt"/>
<line x1="258" y1="261.06" x2="266" y2="261.06" stroke="#5fa830" stroke-width="1.05" stroke-linecap="butt"/>
<line x1="259.7" y1="253.98" x2="264.3" y2="253.98" stroke="#5fa830" stroke-width="1.05" stroke-linecap="butt"/>
<line x1="259.7" y1="272.57" x2="264.3" y2="272.57" stroke="#5fa830" stroke-width="1.05" stroke-linecap="butt"/>
<rect x="271.02" y="237.74" width="3.1" height="3.1" fill="none" stroke="#5fa830" stroke-width="0.95"/>
<rect x="276.33" y="237.74" width="3.1" height="3.1" fill="none" stroke="#5fa830" stroke-width="0.95"/>
<rect x="274.56" y="245.35" width="3.1" height="3.1" fill="none" stroke="#5fa830" stroke-width="0.95"/>
<rect x="271.37" y="251.55" width="3.1" height="3.1" fill="none" stroke="#5fa830" stroke-width="0.95"/>
<rect x="276.33" y="251.55" width="3.1" height="3.1" fill="none" stroke="#5fa830" stroke-width="0.95"/>
<rect x="271.02" y="257.74" width="3.1" height="3.1" fill="none" stroke="#5fa830" stroke-width="0.95"/>
<rect x="276.33" y="258.63" width="3.1" height="3.1" fill="none" stroke="#5fa830" stroke-width="0.95"/>
<rect x="271.9" y="263.05" width="3.1" height="3.1" fill="none" stroke="#5fa830" stroke-width="0.95"/>
<rect x="274.91" y="265.71" width="3.1" height="3.1" fill="none" stroke="#5fa830" stroke-width="0.95"/>
<rect x="271.9" y="270.13" width="3.1" height="3.1" fill="none" stroke="#5fa830" stroke-width="0.95"/>
<rect x="276.33" y="272.79" width="3.1" height="3.1" fill="none" stroke="#5fa830" stroke-width="0.95"/>
<rect x="271.37" y="276.33" width="3.1" height="3.1" fill="none" stroke="#5fa830" stroke-width="0.95"/>
<line x1="275.7" y1="251.33" x2="275.7" y2="271.68" stroke="#5fa830" stroke-width="1.05" stroke-linecap="butt"/>
<line x1="271.7" y1="260.18" x2="279.7" y2="260.18" stroke="#5fa830" stroke-width="1.05" stroke-linecap="butt"/>
<line x1="273.4" y1="251.33" x2="278" y2="251.33" stroke="#5fa830" stroke-width="1.05" stroke-linecap="butt"/>
<line x1="273.4" y1="271.68" x2="278" y2="271.68" stroke="#5fa830" stroke-width="1.05" stroke-linecap="butt"/>
<polygon points="289.42,248.44 291.43,251.95 287.42,251.95" fill="#b3123f"/>
<polygon points="288.01,259.94 290.01,263.45 286,263.45" fill="#b3123f"/>
<polygon points="289.78,265.25 291.78,268.76 287.77,268.76" fill="#b3123f"/>
<polygon points="286.24,266.14 288.24,269.65 284.23,269.65" fill="#b3123f"/>
<polygon points="290.66,267.91 292.67,271.42 288.66,271.42" fill="#b3123f"/>
<polygon points="287.12,270.56 289.13,274.07 285.12,274.07" fill="#b3123f"/>
<polygon points="291.55,270.56 293.55,274.07 289.54,274.07" fill="#b3123f"/>
<polygon points="288.89,272.33 290.9,275.84 286.89,275.84" fill="#b3123f"/>
<polygon points="287.65,275.87 289.66,279.38 285.65,279.38" fill="#b3123f"/>
<polygon points="291.19,275.87 293.2,279.38 289.19,279.38" fill="#b3123f"/>
<polygon points="289.42,281.18 291.43,284.69 287.42,284.69" fill="#b3123f"/>
<line x1="289.4" y1="261.95" x2="289.4" y2="277.88" stroke="#b3123f" stroke-width="1.05" stroke-linecap="butt"/>
<line x1="285.4" y1="272.57" x2="293.4" y2="272.57" stroke="#b3123f" stroke-width="1.05" stroke-linecap="butt"/>
<line x1="287.1" y1="261.95" x2="291.7" y2="261.95" stroke="#b3123f" stroke-width="1.05" stroke-linecap="butt"/>
<line x1="287.1" y1="277.88" x2="291.7" y2="277.88" stroke="#b3123f" stroke-width="1.05" stroke-linecap="butt"/>
<polygon points="302.52,238.92 304.31,242.05 300.74,242.05" fill="none" stroke="#b3123f" stroke-width="0.95" stroke-linejoin="miter"/>
<polygon points="298.27,244.59 300.06,247.71 296.49,247.71" fill="none" stroke="#b3123f" stroke-width="0.95" stroke-linejoin="miter"/>
<polygon points="304.82,244.59 306.61,247.71 303.04,247.71" fill="none" stroke="#b3123f" stroke-width="0.95" stroke-linejoin="miter"/>
<polygon points="300.04,249.54 301.83,252.67 298.26,252.67" fill="none" stroke="#b3123f" stroke-width="0.95" stroke-linejoin="miter"/>
<polygon points="305.71,251.31 307.49,254.44 303.92,254.44" fill="none" stroke="#b3123f" stroke-width="0.95" stroke-linejoin="miter"/>
<polygon points="301.81,253.08 303.6,256.21 300.03,256.21" fill="none" stroke="#b3123f" stroke-width="0.95" stroke-linejoin="miter"/>
<polygon points="307.48,252.2 309.26,255.32 305.69,255.32" fill="none" stroke="#b3123f" stroke-width="0.95" stroke-linejoin="miter"/>
<polygon points="298.27,257.51 300.06,260.63 296.49,260.63" fill="none" stroke="#b3123f" stroke-width="0.95" stroke-linejoin="miter"/>
<polygon points="303.94,258.39 305.72,261.52 302.15,261.52" fill="none" stroke="#b3123f" stroke-width="0.95" stroke-linejoin="miter"/>
<polygon points="301.28,261.05 303.07,264.17 299.5,264.17" fill="none" stroke="#b3123f" stroke-width="0.95" stroke-linejoin="miter"/>
<polygon points="305.35,261.93 307.14,265.06 303.57,265.06" fill="none" stroke="#b3123f" stroke-width="0.95" stroke-linejoin="miter"/>
<polygon points="302.52,264.59 304.31,267.71 300.74,267.71" fill="none" stroke="#b3123f" stroke-width="0.95" stroke-linejoin="miter"/>
<polygon points="303.05,274.32 304.84,277.44 301.27,277.44" fill="none" stroke="#b3123f" stroke-width="0.95" stroke-linejoin="miter"/>
<line x1="303.1" y1="246.9" x2="303.1" y2="265.49" stroke="#b3123f" stroke-width="1.05" stroke-linecap="butt"/>
<line x1="299.1" y1="256.99" x2="307.1" y2="256.99" stroke="#b3123f" stroke-width="1.05" stroke-linecap="butt"/>
<line x1="300.8" y1="246.9" x2="305.4" y2="246.9" stroke="#b3123f" stroke-width="1.05" stroke-linecap="butt"/>
<line x1="300.8" y1="265.49" x2="305.4" y2="265.49" stroke="#b3123f" stroke-width="1.05" stroke-linecap="butt"/>
<polygon points="316.33,264.31 318.33,260.8 314.32,260.8" fill="#1f4e8f"/>
<polygon points="314.56,268.38 316.56,264.87 312.55,264.87" fill="#1f4e8f"/>
<polygon points="318.1,268.91 320.1,265.4 316.09,265.4" fill="#1f4e8f"/>
<polygon points="316.33,270.15 318.33,266.64 314.32,266.64" fill="#1f4e8f"/>
<polygon points="313.67,271.03 315.68,267.52 311.67,267.52" fill="#1f4e8f"/>
<polygon points="318.98,271.03 320.99,267.52 316.98,267.52" fill="#1f4e8f"/>
<polygon points="316.33,272.8 318.33,269.29 314.32,269.29" fill="#1f4e8f"/>
<polygon points="318.1,275.46 320.1,271.95 316.09,271.95" fill="#1f4e8f"/>
<polygon points="314.56,279.53 316.56,276.02 312.55,276.02" fill="#1f4e8f"/>
<line x1="316.8" y1="261.95" x2="316.8" y2="273.45" stroke="#1f4e8f" stroke-width="1.05" stroke-linecap="butt"/>
<line x1="312.8" y1="268.14" x2="320.8" y2="268.14" stroke="#1f4e8f" stroke-width="1.05" stroke-linecap="butt"/>
<line x1="314.5" y1="261.95" x2="319.1" y2="261.95" stroke="#1f4e8f" stroke-width="1.05" stroke-linecap="butt"/>
<line x1="314.5" y1="273.45" x2="319.1" y2="273.45" stroke="#1f4e8f" stroke-width="1.05" stroke-linecap="butt"/>
<polygon points="330.49,241.08 332.27,237.95 328.7,237.95" fill="none" stroke="#1f4e8f" stroke-width="0.95"/>
<polygon points="330.84,250.46 332.63,247.33 329.06,247.33" fill="none" stroke="#1f4e8f" stroke-width="0.95"/>
<polygon points="326.06,258.42 327.85,255.3 324.28,255.3" fill="none" stroke="#1f4e8f" stroke-width="0.95"/>
<polygon points="334.91,258.78 336.7,255.65 333.13,255.65" fill="none" stroke="#1f4e8f" stroke-width="0.95"/>
<polygon points="329.6,261.08 331.39,257.95 327.82,257.95" fill="none" stroke="#1f4e8f" stroke-width="0.95"/>
<polygon points="333.14,261.96 334.93,258.84 331.36,258.84" fill="none" stroke="#1f4e8f" stroke-width="0.95"/>
<polygon points="326.95,263.73 328.73,260.61 325.16,260.61" fill="none" stroke="#1f4e8f" stroke-width="0.95"/>
<polygon points="332.26,263.73 334.04,260.61 330.47,260.61" fill="none" stroke="#1f4e8f" stroke-width="0.95"/>
<polygon points="328.72,265.5 330.5,262.38 326.93,262.38" fill="none" stroke="#1f4e8f" stroke-width="0.95"/>
<polygon points="334.03,269.93 335.81,266.8 332.24,266.8" fill="none" stroke="#1f4e8f" stroke-width="0.95"/>
<polygon points="329.6,271.7 331.39,268.57 327.82,268.57" fill="none" stroke="#1f4e8f" stroke-width="0.95"/>
<polygon points="327.83,277.89 329.62,274.77 326.05,274.77" fill="none" stroke="#1f4e8f" stroke-width="0.95"/>
<polygon points="331.37,275.24 333.16,272.11 329.59,272.11" fill="none" stroke="#1f4e8f" stroke-width="0.95"/>
<line x1="330.5" y1="248.14" x2="330.5" y2="272.92" stroke="#1f4e8f" stroke-width="1.05" stroke-linecap="butt"/>
<line x1="326.5" y1="260.18" x2="334.5" y2="260.18" stroke="#1f4e8f" stroke-width="1.05" stroke-linecap="butt"/>
<line x1="328.2" y1="248.14" x2="332.8" y2="248.14" stroke="#1f4e8f" stroke-width="1.05" stroke-linecap="butt"/>
<line x1="328.2" y1="272.92" x2="332.8" y2="272.92" stroke="#1f4e8f" stroke-width="1.05" stroke-linecap="butt"/>
<line x1="232.2" y1="225.5" x2="246.4" y2="225.5" stroke="#555555" stroke-width="1.25" stroke-linecap="butt"/>
<circle cx="239.3" cy="222.8" r="0.92" fill="#222"/>
<line x1="262.3" y1="229.5" x2="276.5" y2="229.5" stroke="#555555" stroke-width="1.25" stroke-linecap="butt"/>
<text x="269.4" y="227.5" font-size="8.8" text-anchor="middle" font-family="Liberation Serif, serif" font-style="italic" fill="#333" stroke="#333" stroke-width="0.05">ns</text>
<line x1="288.9" y1="236.5" x2="303" y2="236.5" stroke="#555555" stroke-width="1.25" stroke-linecap="butt"/>
<circle cx="294.25" cy="233.8" r="0.92" fill="#222"/>
<circle cx="297.65" cy="233.8" r="0.92" fill="#222"/>
<line x1="316.3" y1="234.5" x2="330.8" y2="234.5" stroke="#555555" stroke-width="1.25" stroke-linecap="butt"/>
<circle cx="323.55" cy="231.8" r="0.92" fill="#222"/>
<text x="109.9" y="375.5" font-size="10.1" text-anchor="middle" fill="#000" stroke="#000" stroke-width="0.04" textLength="83" lengthAdjust="spacingAndGlyphs">PD-1 on CLL Tregs</text>
<line x1="53" y1="381" x2="53" y2="460.4" stroke="#1a1a1a" stroke-width="1.4" stroke-linecap="butt"/>
<line x1="50" y1="459.7" x2="53" y2="459.7" stroke="#1a1a1a" stroke-width="1.25" stroke-linecap="butt"/>
<text x="46.4" y="462.3" font-size="8.4" text-anchor="end" fill="#000" stroke="#000" stroke-width="0.07">0.0</text>
<line x1="50" y1="440.82" x2="53" y2="440.82" stroke="#1a1a1a" stroke-width="1.25" stroke-linecap="butt"/>
<text x="46.4" y="443.43" font-size="8.4" text-anchor="end" fill="#000" stroke="#000" stroke-width="0.07">0.5</text>
<line x1="50" y1="421.95" x2="53" y2="421.95" stroke="#1a1a1a" stroke-width="1.25" stroke-linecap="butt"/>
<text x="46.4" y="424.55" font-size="8.4" text-anchor="end" fill="#000" stroke="#000" stroke-width="0.07">1.0</text>
<line x1="50" y1="403.07" x2="53" y2="403.07" stroke="#1a1a1a" stroke-width="1.25" stroke-linecap="butt"/>
<text x="46.4" y="405.68" font-size="8.4" text-anchor="end" fill="#000" stroke="#000" stroke-width="0.07">1.5</text>
<line x1="50" y1="384.2" x2="53" y2="384.2" stroke="#1a1a1a" stroke-width="1.25" stroke-linecap="butt"/>
<text x="46.4" y="386.8" font-size="8.4" text-anchor="end" fill="#000" stroke="#000" stroke-width="0.07">2.0</text>
<line x1="52.3" y1="459.7" x2="166" y2="459.7" stroke="#1a1a1a" stroke-width="1.4" stroke-linecap="butt"/>
<line x1="62" y1="459.7" x2="62" y2="462.5" stroke="#1a1a1a" stroke-width="1.25" stroke-linecap="butt"/>
<line x1="75.8" y1="459.7" x2="75.8" y2="462.5" stroke="#1a1a1a" stroke-width="1.25" stroke-linecap="butt"/>
<line x1="89.7" y1="459.7" x2="89.7" y2="462.5" stroke="#1a1a1a" stroke-width="1.25" stroke-linecap="butt"/>
<line x1="103.5" y1="459.7" x2="103.5" y2="462.5" stroke="#1a1a1a" stroke-width="1.25" stroke-linecap="butt"/>
<line x1="117.1" y1="459.7" x2="117.1" y2="462.5" stroke="#1a1a1a" stroke-width="1.25" stroke-linecap="butt"/>
<line x1="130.8" y1="459.7" x2="130.8" y2="462.5" stroke="#1a1a1a" stroke-width="1.25" stroke-linecap="butt"/>
<line x1="144.4" y1="459.7" x2="144.4" y2="462.5" stroke="#1a1a1a" stroke-width="1.25" stroke-linecap="butt"/>
<line x1="158" y1="459.7" x2="158" y2="462.5" stroke="#1a1a1a" stroke-width="1.25" stroke-linecap="butt"/>
<text x="65.6" y="469.3" font-size="8.8" text-anchor="end" fill="#000" stroke="#000" stroke-width="0.03" transform="rotate(-45 65.6 469.3)">DMSO</text>
<text x="79.4" y="469.3" font-size="8.8" text-anchor="end" fill="#000" stroke="#000" stroke-width="0.03" transform="rotate(-45 79.4 469.3)">PF-48</text>
<text x="93.3" y="469.3" font-size="8.3" text-anchor="end" fill="#000" stroke="#000" stroke-width="0.03" textLength="21.64" lengthAdjust="spacingAndGlyphs" transform="rotate(-45 93.3 469.3)">umbra</text>
<text x="107.1" y="469.3" font-size="8.3" text-anchor="end" fill="#000" stroke="#000" stroke-width="0.03" textLength="41.62" lengthAdjust="spacingAndGlyphs" transform="rotate(-45 107.1 469.3)">umbra + PF</text>
<text x="120.7" y="469.3" font-size="8.3" text-anchor="end" fill="#000" stroke="#000" stroke-width="0.03" textLength="17.53" lengthAdjust="spacingAndGlyphs" transform="rotate(-45 120.7 469.3)">idela</text>
<text x="134.4" y="469.3" font-size="8.3" text-anchor="end" fill="#000" stroke="#000" stroke-width="0.03" textLength="35.9" lengthAdjust="spacingAndGlyphs" transform="rotate(-45 134.4 469.3)">idela + PF</text>
<text x="148" y="469.3" font-size="8.3" text-anchor="end" fill="#000" stroke="#000" stroke-width="0.03" textLength="12.51" lengthAdjust="spacingAndGlyphs" transform="rotate(-45 148 469.3)">duv</text>
<text x="161.6" y="469.3" font-size="8.3" text-anchor="end" fill="#000" stroke="#000" stroke-width="0.03" textLength="33.44" lengthAdjust="spacingAndGlyphs" transform="rotate(-45 161.6 469.3)">duv + PF</text>
<text x="29" y="420.1" font-size="8.8" text-anchor="middle" fill="#000" stroke="#000" stroke-width="0.3" textLength="59.3" lengthAdjust="spacingAndGlyphs" transform="rotate(-90 29 420.1)">Fold change of MFI</text>
<line x1="59.2" y1="421.8" x2="65" y2="421.8" stroke="#3f0d5c" stroke-width="2.8" stroke-linecap="round"/>
<circle cx="73.08" cy="397.62" r="1.55" fill="none" stroke="#5fa0dc" stroke-width="0.95"/>
<circle cx="78.16" cy="399.92" r="1.55" fill="none" stroke="#5fa0dc" stroke-width="0.95"/>
<circle cx="74.92" cy="404.54" r="1.55" fill="none" stroke="#5fa0dc" stroke-width="0.95"/>
<circle cx="70.77" cy="406.16" r="1.55" fill="none" stroke="#5fa0dc" stroke-width="0.95"/>
<circle cx="80" cy="405.46" r="1.55" fill="none" stroke="#5fa0dc" stroke-width="0.95"/>
<circle cx="74.23" cy="409.62" r="1.55" fill="none" stroke="#5fa0dc" stroke-width="0.95"/>
<circle cx="71.23" cy="410.77" r="1.55" fill="none" stroke="#5fa0dc" stroke-width="0.95"/>
<circle cx="78.85" cy="410.77" r="1.55" fill="none" stroke="#5fa0dc" stroke-width="0.95"/>
<circle cx="75.39" cy="413.08" r="1.55" fill="none" stroke="#5fa0dc" stroke-width="0.95"/>
<circle cx="73.08" cy="416.54" r="1.55" fill="none" stroke="#5fa0dc" stroke-width="0.95"/>
<circle cx="77.23" cy="417.7" r="1.55" fill="none" stroke="#5fa0dc" stroke-width="0.95"/>
<circle cx="74.92" cy="419.54" r="1.55" fill="none" stroke="#5fa0dc" stroke-width="0.95"/>
<line x1="75.8" y1="404.31" x2="75.8" y2="416.54" stroke="#5fa0dc" stroke-width="1.05" stroke-linecap="butt"/>
<line x1="71.8" y1="410.08" x2="79.8" y2="410.08" stroke="#5fa0dc" stroke-width="1.05" stroke-linecap="butt"/>
<line x1="73.5" y1="404.31" x2="78.1" y2="404.31" stroke="#5fa0dc" stroke-width="1.05" stroke-linecap="butt"/>
<line x1="73.5" y1="416.54" x2="78.1" y2="416.54" stroke="#5fa0dc" stroke-width="1.05" stroke-linecap="butt"/>
<rect x="88" y="405.61" width="3.4" height="3.4" fill="#5fa830"/>
<rect x="85.23" y="420.61" width="3.4" height="3.4" fill="#5fa830"/>
<rect x="89.84" y="420.61" width="3.4" height="3.4" fill="#5fa830"/>
<rect x="87.07" y="422.92" width="3.4" height="3.4" fill="#5fa830"/>
<rect x="85.23" y="425.23" width="3.4" height="3.4" fill="#5fa830"/>
<rect x="89.84" y="425.23" width="3.4" height="3.4" fill="#5fa830"/>
<rect x="87.53" y="427.53" width="3.4" height="3.4" fill="#5fa830"/>
<rect x="85.69" y="428.69" width="3.4" height="3.4" fill="#5fa830"/>
<rect x="89.38" y="429.84" width="3.4" height="3.4" fill="#5fa830"/>
<rect x="88" y="436.07" width="3.4" height="3.4" fill="#5fa830"/>
<line x1="89.7" y1="417.7" x2="89.7" y2="432.7" stroke="#5fa830" stroke-width="1.05" stroke-linecap="butt"/>
<line x1="85.7" y1="424.62" x2="93.7" y2="424.62" stroke="#5fa830" stroke-width="1.05" stroke-linecap="butt"/>
<line x1="87.4" y1="417.7" x2="92" y2="417.7" stroke="#5fa830" stroke-width="1.05" stroke-linecap="butt"/>
<line x1="87.4" y1="432.7" x2="92" y2="432.7" stroke="#5fa830" stroke-width="1.05" stroke-linecap="butt"/>
<rect x="98.76" y="409.22" width="3.1" height="3.1" fill="none" stroke="#5fa830" stroke-width="0.95"/>
<rect x="103.84" y="409.22" width="3.1" height="3.1" fill="none" stroke="#5fa830" stroke-width="0.95"/>
<rect x="99.22" y="420.76" width="3.1" height="3.1" fill="none" stroke="#5fa830" stroke-width="0.95"/>
<rect x="103.84" y="420.76" width="3.1" height="3.1" fill="none" stroke="#5fa830" stroke-width="0.95"/>
<rect x="101.53" y="423.07" width="3.1" height="3.1" fill="none" stroke="#5fa830" stroke-width="0.95"/>
<rect x="98.07" y="425.38" width="3.1" height="3.1" fill="none" stroke="#5fa830" stroke-width="0.95"/>
<rect x="103.84" y="427.68" width="3.1" height="3.1" fill="none" stroke="#5fa830" stroke-width="0.95"/>
<rect x="99.68" y="428.84" width="3.1" height="3.1" fill="none" stroke="#5fa830" stroke-width="0.95"/>
<rect x="101.99" y="436.92" width="3.1" height="3.1" fill="none" stroke="#5fa830" stroke-width="0.95"/>
<line x1="103.5" y1="416.54" x2="103.5" y2="432.7" stroke="#5fa830" stroke-width="1.05" stroke-linecap="butt"/>
<line x1="99.5" y1="424.62" x2="107.5" y2="424.62" stroke="#5fa830" stroke-width="1.05" stroke-linecap="butt"/>
<line x1="101.2" y1="416.54" x2="105.8" y2="416.54" stroke="#5fa830" stroke-width="1.05" stroke-linecap="butt"/>
<line x1="101.2" y1="432.7" x2="105.8" y2="432.7" stroke="#5fa830" stroke-width="1.05" stroke-linecap="butt"/>
<polygon points="116.93,423.31 118.93,426.82 114.92,426.82" fill="#b3123f"/>
<polygon points="114.62,427.23 116.63,430.74 112.61,430.74" fill="#b3123f"/>
<polygon points="118.08,428.38 120.09,431.89 116.08,431.89" fill="#b3123f"/>
<polygon points="115.77,430.69 117.78,434.2 113.77,434.2" fill="#b3123f"/>
<polygon points="114.16,433 116.16,436.51 112.15,436.51" fill="#b3123f"/>
<polygon points="119.24,433.46 121.24,436.97 117.23,436.97" fill="#b3123f"/>
<polygon points="117.39,435.31 119.4,438.82 115.38,438.82" fill="#b3123f"/>
<polygon points="115.08,438.08 117.09,441.59 113.08,441.59" fill="#b3123f"/>
<polygon points="116.93,449.15 118.93,452.66 114.92,452.66" fill="#b3123f"/>
<line x1="117.1" y1="429.23" x2="117.1" y2="441.93" stroke="#b3123f" stroke-width="1.05" stroke-linecap="butt"/>
<line x1="113.1" y1="433.85" x2="121.1" y2="433.85" stroke="#b3123f" stroke-width="1.05" stroke-linecap="butt"/>
<line x1="114.8" y1="429.23" x2="119.4" y2="429.23" stroke="#b3123f" stroke-width="1.05" stroke-linecap="butt"/>
<line x1="114.8" y1="441.93" x2="119.4" y2="441.93" stroke="#b3123f" stroke-width="1.05" stroke-linecap="butt"/>
<polygon points="130.31,408.29 132.1,411.42 128.53,411.42" fill="none" stroke="#b3123f" stroke-width="0.95" stroke-linejoin="miter"/>
<polygon points="128.47,420.53 130.25,423.65 126.68,423.65" fill="none" stroke="#b3123f" stroke-width="0.95" stroke-linejoin="miter"/>
<polygon points="131.93,421.68 133.71,424.8 130.14,424.8" fill="none" stroke="#b3123f" stroke-width="0.95" stroke-linejoin="miter"/>
<polygon points="126.16,423.99 127.94,427.11 124.37,427.11" fill="none" stroke="#b3123f" stroke-width="0.95" stroke-linejoin="miter"/>
<polygon points="129.62,426.3 131.41,429.42 127.84,429.42" fill="none" stroke="#b3123f" stroke-width="0.95" stroke-linejoin="miter"/>
<polygon points="133.08,426.76 134.87,429.88 131.3,429.88" fill="none" stroke="#b3123f" stroke-width="0.95" stroke-linejoin="miter"/>
<polygon points="127.31,429.76 129.1,432.88 125.53,432.88" fill="none" stroke="#b3123f" stroke-width="0.95" stroke-linejoin="miter"/>
<polygon points="130.78,430.91 132.56,434.04 128.99,434.04" fill="none" stroke="#b3123f" stroke-width="0.95" stroke-linejoin="miter"/>
<polygon points="126.62,436.68 128.41,439.81 124.84,439.81" fill="none" stroke="#b3123f" stroke-width="0.95" stroke-linejoin="miter"/>
<polygon points="131.24,436.68 133.02,439.81 129.45,439.81" fill="none" stroke="#b3123f" stroke-width="0.95" stroke-linejoin="miter"/>
<line x1="130.8" y1="420" x2="130.8" y2="433.85" stroke="#b3123f" stroke-width="1.05" stroke-linecap="butt"/>
<line x1="126.8" y1="427.62" x2="134.8" y2="427.62" stroke="#b3123f" stroke-width="1.05" stroke-linecap="butt"/>
<line x1="128.5" y1="420" x2="133.1" y2="420" stroke="#b3123f" stroke-width="1.05" stroke-linecap="butt"/>
<line x1="128.5" y1="433.85" x2="133.1" y2="433.85" stroke="#b3123f" stroke-width="1.05" stroke-linecap="butt"/>
<polygon points="140.01,433.55 142.01,430.04 138,430.04" fill="#1f4e8f"/>
<polygon points="144.62,433.55 146.63,430.04 142.62,430.04" fill="#1f4e8f"/>
<polygon points="142.31,435.86 144.32,432.35 140.31,432.35" fill="#1f4e8f"/>
<polygon points="141.16,438.16 143.17,434.65 139.15,434.65" fill="#1f4e8f"/>
<polygon points="144.16,439.32 146.17,435.81 142.16,435.81" fill="#1f4e8f"/>
<polygon points="142.78,442.78 144.78,439.27 140.77,439.27" fill="#1f4e8f"/>
<polygon points="141.85,445.78 143.86,442.27 139.85,442.27" fill="#1f4e8f"/>
<polygon points="143.47,456.63 145.47,453.12 141.46,453.12" fill="#1f4e8f"/>
<line x1="144.4" y1="430.39" x2="144.4" y2="443.08" stroke="#1f4e8f" stroke-width="1.05" stroke-linecap="butt"/>
<line x1="140.4" y1="437.31" x2="148.4" y2="437.31" stroke="#1f4e8f" stroke-width="1.05" stroke-linecap="butt"/>
<line x1="142.1" y1="430.39" x2="146.7" y2="430.39" stroke="#1f4e8f" stroke-width="1.05" stroke-linecap="butt"/>
<line x1="142.1" y1="443.08" x2="146.7" y2="443.08" stroke="#1f4e8f" stroke-width="1.05" stroke-linecap="butt"/>
<polygon points="155.01,414.86 156.79,411.74 153.22,411.74" fill="none" stroke="#1f4e8f" stroke-width="0.95"/>
<polygon points="160.32,417.17 162.1,414.05 158.53,414.05" fill="none" stroke="#1f4e8f" stroke-width="0.95"/>
<polygon points="157.32,421.79 159.1,418.66 155.53,418.66" fill="none" stroke="#1f4e8f" stroke-width="0.95"/>
<polygon points="154.32,426.4 156.1,423.28 152.53,423.28" fill="none" stroke="#1f4e8f" stroke-width="0.95"/>
<polygon points="158.47,426.4 160.25,423.28 156.68,423.28" fill="none" stroke="#1f4e8f" stroke-width="0.95"/>
<polygon points="156.16,429.87 157.95,426.74 154.38,426.74" fill="none" stroke="#1f4e8f" stroke-width="0.95"/>
<polygon points="160.32,429.87 162.1,426.74 158.53,426.74" fill="none" stroke="#1f4e8f" stroke-width="0.95"/>
<polygon points="157.32,433.33 159.1,430.2 155.53,430.2" fill="none" stroke="#1f4e8f" stroke-width="0.95"/>
<polygon points="156.62,439.1 158.41,435.97 154.84,435.97" fill="none" stroke="#1f4e8f" stroke-width="0.95"/>
<line x1="158" y1="418.85" x2="158" y2="429.23" stroke="#1f4e8f" stroke-width="1.05" stroke-linecap="butt"/>
<line x1="154" y1="423.93" x2="162" y2="423.93" stroke="#1f4e8f" stroke-width="1.05" stroke-linecap="butt"/>
<line x1="155.7" y1="418.85" x2="160.3" y2="418.85" stroke="#1f4e8f" stroke-width="1.05" stroke-linecap="butt"/>
<line x1="155.7" y1="429.23" x2="160.3" y2="429.23" stroke="#1f4e8f" stroke-width="1.05" stroke-linecap="butt"/>
<line x1="59.6" y1="388.5" x2="74" y2="388.5" stroke="#555555" stroke-width="1.25" stroke-linecap="butt"/>
<circle cx="63.4" cy="385.8" r="0.92" fill="#222"/>
<circle cx="66.8" cy="385.8" r="0.92" fill="#222"/>
<circle cx="70.2" cy="385.8" r="0.92" fill="#222"/>
<line x1="88.8" y1="402.5" x2="104.2" y2="402.5" stroke="#555555" stroke-width="1.25" stroke-linecap="butt"/>
<text x="96.5" y="400.5" font-size="8.8" text-anchor="middle" font-family="Liberation Serif, serif" font-style="italic" fill="#333" stroke="#333" stroke-width="0.05">ns</text>
<line x1="116.5" y1="406.5" x2="130.3" y2="406.5" stroke="#555555" stroke-width="1.25" stroke-linecap="butt"/>
<circle cx="121.7" cy="403.8" r="0.92" fill="#222"/>
<circle cx="125.1" cy="403.8" r="0.92" fill="#222"/>
<line x1="142.3" y1="406.5" x2="156.6" y2="406.5" stroke="#555555" stroke-width="1.25" stroke-linecap="butt"/>
<circle cx="146.05" cy="403.8" r="0.92" fill="#222"/>
<circle cx="149.45" cy="403.8" r="0.92" fill="#222"/>
<circle cx="152.85" cy="403.8" r="0.92" fill="#222"/>
<text x="282.45" y="375.5" font-size="10.1" text-anchor="middle" fill="#000" stroke="#000" stroke-width="0.04" textLength="94" lengthAdjust="spacingAndGlyphs">CTLA-4 on CLL Tregs</text>
<line x1="225.8" y1="381" x2="225.8" y2="460.4" stroke="#1a1a1a" stroke-width="1.4" stroke-linecap="butt"/>
<line x1="222.8" y1="459.7" x2="225.8" y2="459.7" stroke="#1a1a1a" stroke-width="1.25" stroke-linecap="butt"/>
<text x="219.2" y="462.3" font-size="8.4" text-anchor="end" fill="#000" stroke="#000" stroke-width="0.07">0.0</text>
<line x1="222.8" y1="440.82" x2="225.8" y2="440.82" stroke="#1a1a1a" stroke-width="1.25" stroke-linecap="butt"/>
<text x="219.2" y="443.43" font-size="8.4" text-anchor="end" fill="#000" stroke="#000" stroke-width="0.07">0.5</text>
<line x1="222.8" y1="421.95" x2="225.8" y2="421.95" stroke="#1a1a1a" stroke-width="1.25" stroke-linecap="butt"/>
<text x="219.2" y="424.55" font-size="8.4" text-anchor="end" fill="#000" stroke="#000" stroke-width="0.07">1.0</text>
<line x1="222.8" y1="403.07" x2="225.8" y2="403.07" stroke="#1a1a1a" stroke-width="1.25" stroke-linecap="butt"/>
<text x="219.2" y="405.68" font-size="8.4" text-anchor="end" fill="#000" stroke="#000" stroke-width="0.07">1.5</text>
<line x1="222.8" y1="384.2" x2="225.8" y2="384.2" stroke="#1a1a1a" stroke-width="1.25" stroke-linecap="butt"/>
<text x="219.2" y="386.8" font-size="8.4" text-anchor="end" fill="#000" stroke="#000" stroke-width="0.07">2.0</text>
<line x1="225.1" y1="459.7" x2="337.9" y2="459.7" stroke="#1a1a1a" stroke-width="1.4" stroke-linecap="butt"/>
<line x1="234.7" y1="459.7" x2="234.7" y2="462.5" stroke="#1a1a1a" stroke-width="1.25" stroke-linecap="butt"/>
<line x1="248.3" y1="459.7" x2="248.3" y2="462.5" stroke="#1a1a1a" stroke-width="1.25" stroke-linecap="butt"/>
<line x1="262" y1="459.7" x2="262" y2="462.5" stroke="#1a1a1a" stroke-width="1.25" stroke-linecap="butt"/>
<line x1="275.7" y1="459.7" x2="275.7" y2="462.5" stroke="#1a1a1a" stroke-width="1.25" stroke-linecap="butt"/>
<line x1="289.4" y1="459.7" x2="289.4" y2="462.5" stroke="#1a1a1a" stroke-width="1.25" stroke-linecap="butt"/>
<line x1="303.2" y1="459.7" x2="303.2" y2="462.5" stroke="#1a1a1a" stroke-width="1.25" stroke-linecap="butt"/>
<line x1="316.8" y1="459.7" x2="316.8" y2="462.5" stroke="#1a1a1a" stroke-width="1.25" stroke-linecap="butt"/>
<line x1="330.5" y1="459.7" x2="330.5" y2="462.5" stroke="#1a1a1a" stroke-width="1.25" stroke-linecap="butt"/>
<text x="238.3" y="469.3" font-size="8.8" text-anchor="end" fill="#000" stroke="#000" stroke-width="0.03" transform="rotate(-45 238.3 469.3)">DMSO</text>
<text x="251.9" y="469.3" font-size="8.8" text-anchor="end" fill="#000" stroke="#000" stroke-width="0.03" transform="rotate(-45 251.9 469.3)">PF-48</text>
<text x="265.6" y="469.3" font-size="8.3" text-anchor="end" fill="#000" stroke="#000" stroke-width="0.03" textLength="21.64" lengthAdjust="spacingAndGlyphs" transform="rotate(-45 265.6 469.3)">umbra</text>
<text x="279.3" y="469.3" font-size="8.3" text-anchor="end" fill="#000" stroke="#000" stroke-width="0.03" textLength="41.62" lengthAdjust="spacingAndGlyphs" transform="rotate(-45 279.3 469.3)">umbra + PF</text>
<text x="293" y="469.3" font-size="8.3" text-anchor="end" fill="#000" stroke="#000" stroke-width="0.03" textLength="17.53" lengthAdjust="spacingAndGlyphs" transform="rotate(-45 293 469.3)">idela</text>
<text x="306.8" y="469.3" font-size="8.3" text-anchor="end" fill="#000" stroke="#000" stroke-width="0.03" textLength="35.9" lengthAdjust="spacingAndGlyphs" transform="rotate(-45 306.8 469.3)">idela + PF</text>
<text x="320.4" y="469.3" font-size="8.3" text-anchor="end" fill="#000" stroke="#000" stroke-width="0.03" textLength="12.51" lengthAdjust="spacingAndGlyphs" transform="rotate(-45 320.4 469.3)">duv</text>
<text x="334.1" y="469.3" font-size="8.3" text-anchor="end" fill="#000" stroke="#000" stroke-width="0.03" textLength="33.44" lengthAdjust="spacingAndGlyphs" transform="rotate(-45 334.1 469.3)">duv + PF</text>
<text x="201.3" y="420.1" font-size="8.8" text-anchor="middle" fill="#000" stroke="#000" stroke-width="0.3" textLength="59.3" lengthAdjust="spacingAndGlyphs" transform="rotate(-90 201.3 420.1)">Fold change of MFI</text>
<line x1="232" y1="421.8" x2="237.4" y2="421.8" stroke="#3f0d5c" stroke-width="2.8" stroke-linecap="round"/>
<circle cx="248.54" cy="403.16" r="1.55" fill="none" stroke="#5fa0dc" stroke-width="0.95"/>
<circle cx="245.08" cy="413.08" r="1.55" fill="none" stroke="#5fa0dc" stroke-width="0.95"/>
<circle cx="249.69" cy="412.39" r="1.55" fill="none" stroke="#5fa0dc" stroke-width="0.95"/>
<circle cx="246.92" cy="416.08" r="1.55" fill="none" stroke="#5fa0dc" stroke-width="0.95"/>
<circle cx="250.85" cy="416.08" r="1.55" fill="none" stroke="#5fa0dc" stroke-width="0.95"/>
<circle cx="245.08" cy="418.85" r="1.55" fill="none" stroke="#5fa0dc" stroke-width="0.95"/>
<circle cx="249.69" cy="419.31" r="1.55" fill="none" stroke="#5fa0dc" stroke-width="0.95"/>
<circle cx="247.39" cy="421.16" r="1.55" fill="none" stroke="#5fa0dc" stroke-width="0.95"/>
<circle cx="246.23" cy="423" r="1.55" fill="none" stroke="#5fa0dc" stroke-width="0.95"/>
<circle cx="249.23" cy="423.47" r="1.55" fill="none" stroke="#5fa0dc" stroke-width="0.95"/>
<line x1="248.3" y1="411.93" x2="248.3" y2="422.31" stroke="#5fa0dc" stroke-width="1.05" stroke-linecap="butt"/>
<line x1="244.3" y1="416.54" x2="252.3" y2="416.54" stroke="#5fa0dc" stroke-width="1.05" stroke-linecap="butt"/>
<line x1="246" y1="411.93" x2="250.6" y2="411.93" stroke="#5fa0dc" stroke-width="1.05" stroke-linecap="butt"/>
<line x1="246" y1="422.31" x2="250.6" y2="422.31" stroke="#5fa0dc" stroke-width="1.05" stroke-linecap="butt"/>
<rect x="260" y="414.84" width="3.4" height="3.4" fill="#5fa830"/>
<rect x="257.23" y="420.61" width="3.4" height="3.4" fill="#5fa830"/>
<rect x="261.84" y="421.3" width="3.4" height="3.4" fill="#5fa830"/>
<rect x="258.38" y="422.92" width="3.4" height="3.4" fill="#5fa830"/>
<rect x="261.38" y="424.07" width="3.4" height="3.4" fill="#5fa830"/>
<rect x="259.53" y="426.38" width="3.4" height="3.4" fill="#5fa830"/>
<rect x="257.23" y="431" width="3.4" height="3.4" fill="#5fa830"/>
<rect x="262.3" y="429.84" width="3.4" height="3.4" fill="#5fa830"/>
<line x1="262" y1="421.16" x2="262" y2="429.23" stroke="#5fa830" stroke-width="1.05" stroke-linecap="butt"/>
<line x1="258" y1="424.62" x2="266" y2="424.62" stroke="#5fa830" stroke-width="1.05" stroke-linecap="butt"/>
<line x1="259.7" y1="421.16" x2="264.3" y2="421.16" stroke="#5fa830" stroke-width="1.05" stroke-linecap="butt"/>
<line x1="259.7" y1="429.23" x2="264.3" y2="429.23" stroke="#5fa830" stroke-width="1.05" stroke-linecap="butt"/>
<rect x="273.53" y="405.3" width="3.1" height="3.1" fill="none" stroke="#5fa830" stroke-width="0.95"/>
<rect x="273.99" y="415.45" width="3.1" height="3.1" fill="none" stroke="#5fa830" stroke-width="0.95"/>
<rect x="270.07" y="419.61" width="3.1" height="3.1" fill="none" stroke="#5fa830" stroke-width="0.95"/>
<rect x="275.84" y="419.61" width="3.1" height="3.1" fill="none" stroke="#5fa830" stroke-width="0.95"/>
<rect x="272.38" y="423.07" width="3.1" height="3.1" fill="none" stroke="#5fa830" stroke-width="0.95"/>
<rect x="276.99" y="423.07" width="3.1" height="3.1" fill="none" stroke="#5fa830" stroke-width="0.95"/>
<rect x="274.68" y="426.53" width="3.1" height="3.1" fill="none" stroke="#5fa830" stroke-width="0.95"/>
<rect x="273.99" y="432.99" width="3.1" height="3.1" fill="none" stroke="#5fa830" stroke-width="0.95"/>
<line x1="275.7" y1="416.54" x2="275.7" y2="429.23" stroke="#5fa830" stroke-width="1.05" stroke-linecap="butt"/>
<line x1="271.7" y1="423.47" x2="279.7" y2="423.47" stroke="#5fa830" stroke-width="1.05" stroke-linecap="butt"/>
<line x1="273.4" y1="416.54" x2="278" y2="416.54" stroke="#5fa830" stroke-width="1.05" stroke-linecap="butt"/>
<line x1="273.4" y1="429.23" x2="278" y2="429.23" stroke="#5fa830" stroke-width="1.05" stroke-linecap="butt"/>
<polygon points="289.39,418.69 291.4,422.2 287.38,422.2" fill="#b3123f"/>
<polygon points="286.62,423.77 288.63,427.28 284.61,427.28" fill="#b3123f"/>
<polygon points="291.24,423.31 293.24,426.82 289.23,426.82" fill="#b3123f"/>
<polygon points="287.77,426.54 289.78,430.05 285.77,430.05" fill="#b3123f"/>
<polygon points="290.08,428.38 292.09,431.89 288.08,431.89" fill="#b3123f"/>
<polygon points="286.62,429.54 288.63,433.05 284.61,433.05" fill="#b3123f"/>
<polygon points="291.24,430.69 293.24,434.2 289.23,434.2" fill="#b3123f"/>
<polygon points="288.93,435.31 290.93,438.82 286.92,438.82" fill="#b3123f"/>
<line x1="289.4" y1="425.31" x2="289.4" y2="432.7" stroke="#b3123f" stroke-width="1.05" stroke-linecap="butt"/>
<line x1="285.4" y1="429.23" x2="293.4" y2="429.23" stroke="#b3123f" stroke-width="1.05" stroke-linecap="butt"/>
<line x1="287.1" y1="425.31" x2="291.7" y2="425.31" stroke="#b3123f" stroke-width="1.05" stroke-linecap="butt"/>
<line x1="287.1" y1="432.7" x2="291.7" y2="432.7" stroke="#b3123f" stroke-width="1.05" stroke-linecap="butt"/>
<polygon points="300.47,405.06 302.25,408.19 298.68,408.19" fill="none" stroke="#b3123f" stroke-width="0.95" stroke-linejoin="miter"/>
<polygon points="304.62,408.29 306.41,411.42 302.84,411.42" fill="none" stroke="#b3123f" stroke-width="0.95" stroke-linejoin="miter"/>
<polygon points="301.62,413.6 303.41,416.73 299.84,416.73" fill="none" stroke="#b3123f" stroke-width="0.95" stroke-linejoin="miter"/>
<polygon points="302.78,415.91 304.56,419.03 300.99,419.03" fill="none" stroke="#b3123f" stroke-width="0.95" stroke-linejoin="miter"/>
<polygon points="299.31,418.22 301.1,421.34 297.53,421.34" fill="none" stroke="#b3123f" stroke-width="0.95" stroke-linejoin="miter"/>
<polygon points="305.08,419.37 306.87,422.5 303.3,422.5" fill="none" stroke="#b3123f" stroke-width="0.95" stroke-linejoin="miter"/>
<polygon points="300.47,421.68 302.25,424.8 298.68,424.8" fill="none" stroke="#b3123f" stroke-width="0.95" stroke-linejoin="miter"/>
<polygon points="303.93,422.83 305.71,425.96 302.14,425.96" fill="none" stroke="#b3123f" stroke-width="0.95" stroke-linejoin="miter"/>
<polygon points="301.62,426.76 303.41,429.88 299.84,429.88" fill="none" stroke="#b3123f" stroke-width="0.95" stroke-linejoin="miter"/>
<polygon points="305.08,428.6 306.87,431.73 303.3,431.73" fill="none" stroke="#b3123f" stroke-width="0.95" stroke-linejoin="miter"/>
<polygon points="300.47,429.76 302.25,432.88 298.68,432.88" fill="none" stroke="#b3123f" stroke-width="0.95" stroke-linejoin="miter"/>
<line x1="303.2" y1="415.39" x2="303.2" y2="429.23" stroke="#b3123f" stroke-width="1.05" stroke-linecap="butt"/>
<line x1="299.2" y1="422.31" x2="307.2" y2="422.31" stroke="#b3123f" stroke-width="1.05" stroke-linecap="butt"/>
<line x1="300.9" y1="415.39" x2="305.5" y2="415.39" stroke="#b3123f" stroke-width="1.05" stroke-linecap="butt"/>
<line x1="300.9" y1="429.23" x2="305.5" y2="429.23" stroke="#b3123f" stroke-width="1.05" stroke-linecap="butt"/>
<polygon points="316.16,418.55 318.17,415.04 314.16,415.04" fill="#1f4e8f"/>
<polygon points="313.16,427.78 315.17,424.27 311.15,424.27" fill="#1f4e8f"/>
<polygon points="316.62,428.93 318.63,425.42 314.62,425.42" fill="#1f4e8f"/>
<polygon points="314.31,431.24 316.32,427.73 312.31,427.73" fill="#1f4e8f"/>
<polygon points="317.78,431.24 319.78,427.73 315.77,427.73" fill="#1f4e8f"/>
<polygon points="312.01,434.7 314.01,431.19 310,431.19" fill="#1f4e8f"/>
<polygon points="314.31,438.16 316.32,434.65 312.31,434.65" fill="#1f4e8f"/>
<polygon points="316.62,439.32 318.63,435.81 314.62,435.81" fill="#1f4e8f"/>
<polygon points="314.31,442.78 316.32,439.27 312.31,439.27" fill="#1f4e8f"/>
<line x1="316.8" y1="423.47" x2="316.8" y2="431.54" stroke="#1f4e8f" stroke-width="1.05" stroke-linecap="butt"/>
<line x1="312.8" y1="426.93" x2="320.8" y2="426.93" stroke="#1f4e8f" stroke-width="1.05" stroke-linecap="butt"/>
<line x1="314.5" y1="423.47" x2="319.1" y2="423.47" stroke="#1f4e8f" stroke-width="1.05" stroke-linecap="butt"/>
<line x1="314.5" y1="431.54" x2="319.1" y2="431.54" stroke="#1f4e8f" stroke-width="1.05" stroke-linecap="butt"/>
<polygon points="329.78,399.86 331.56,396.74 327.99,396.74" fill="none" stroke="#1f4e8f" stroke-width="0.95"/>
<polygon points="327.01,404.94 328.79,401.82 325.22,401.82" fill="none" stroke="#1f4e8f" stroke-width="0.95"/>
<polygon points="332.32,406.09 334.1,402.97 330.53,402.97" fill="none" stroke="#1f4e8f" stroke-width="0.95"/>
<polygon points="328.16,418.33 329.95,415.2 326.38,415.2" fill="none" stroke="#1f4e8f" stroke-width="0.95"/>
<polygon points="330.47,420.63 332.25,417.51 328.68,417.51" fill="none" stroke="#1f4e8f" stroke-width="0.95"/>
<polygon points="325.85,422.94 327.64,419.82 324.07,419.82" fill="none" stroke="#1f4e8f" stroke-width="0.95"/>
<polygon points="332.78,422.94 334.56,419.82 330.99,419.82" fill="none" stroke="#1f4e8f" stroke-width="0.95"/>
<polygon points="328.62,425.25 330.41,422.13 326.84,422.13" fill="none" stroke="#1f4e8f" stroke-width="0.95"/>
<polygon points="327.01,427.56 328.79,424.43 325.22,424.43" fill="none" stroke="#1f4e8f" stroke-width="0.95"/>
<polygon points="331.62,428.71 333.41,425.59 329.84,425.59" fill="none" stroke="#1f4e8f" stroke-width="0.95"/>
<polygon points="328.62,431.02 330.41,427.9 326.84,427.9" fill="none" stroke="#1f4e8f" stroke-width="0.95"/>
<line x1="330.5" y1="408.46" x2="330.5" y2="426.93" stroke="#1f4e8f" stroke-width="1.05" stroke-linecap="butt"/>
<line x1="326.5" y1="418.85" x2="334.5" y2="418.85" stroke="#1f4e8f" stroke-width="1.05" stroke-linecap="butt"/>
<line x1="328.2" y1="408.46" x2="332.8" y2="408.46" stroke="#1f4e8f" stroke-width="1.05" stroke-linecap="butt"/>
<line x1="328.2" y1="426.93" x2="332.8" y2="426.93" stroke="#1f4e8f" stroke-width="1.05" stroke-linecap="butt"/>
<line x1="231.7" y1="396.5" x2="246.2" y2="396.5" stroke="#555555" stroke-width="1.25" stroke-linecap="butt"/>
<circle cx="237.25" cy="393.8" r="0.92" fill="#222"/>
<circle cx="240.65" cy="393.8" r="0.92" fill="#222"/>
<line x1="262.4" y1="403.5" x2="276.2" y2="403.5" stroke="#555555" stroke-width="1.25" stroke-linecap="butt"/>
<text x="269.3" y="401.5" font-size="8.8" text-anchor="middle" font-family="Liberation Serif, serif" font-style="italic" fill="#333" stroke="#333" stroke-width="0.05">ns</text>
<line x1="288.9" y1="399.5" x2="302.8" y2="399.5" stroke="#555555" stroke-width="1.25" stroke-linecap="butt"/>
<circle cx="294.15" cy="396.8" r="0.92" fill="#222"/>
<circle cx="297.55" cy="396.8" r="0.92" fill="#222"/>
<line x1="316.2" y1="395.5" x2="330.5" y2="395.5" stroke="#555555" stroke-width="1.25" stroke-linecap="butt"/>
<circle cx="321.65" cy="392.8" r="0.92" fill="#222"/>
<circle cx="325.05" cy="392.8" r="0.92" fill="#222"/>
<text x="456" y="375.5" font-size="10.1" text-anchor="middle" fill="#000" stroke="#000" stroke-width="0.04" textLength="87.1" lengthAdjust="spacingAndGlyphs">CD38 on CLL Tregs</text>
<line x1="399.3" y1="381" x2="399.3" y2="460.4" stroke="#1a1a1a" stroke-width="1.4" stroke-linecap="butt"/>
<line x1="396.3" y1="459.7" x2="399.3" y2="459.7" stroke="#1a1a1a" stroke-width="1.25" stroke-linecap="butt"/>
<text x="392.7" y="462.3" font-size="8.4" text-anchor="end" fill="#000" stroke="#000" stroke-width="0.07">0.0</text>
<line x1="396.3" y1="440.82" x2="399.3" y2="440.82" stroke="#1a1a1a" stroke-width="1.25" stroke-linecap="butt"/>
<text x="392.7" y="443.43" font-size="8.4" text-anchor="end" fill="#000" stroke="#000" stroke-width="0.07">0.5</text>
<line x1="396.3" y1="421.95" x2="399.3" y2="421.95" stroke="#1a1a1a" stroke-width="1.25" stroke-linecap="butt"/>
<text x="392.7" y="424.55" font-size="8.4" text-anchor="end" fill="#000" stroke="#000" stroke-width="0.07">1.0</text>
<line x1="396.3" y1="403.07" x2="399.3" y2="403.07" stroke="#1a1a1a" stroke-width="1.25" stroke-linecap="butt"/>
<text x="392.7" y="405.68" font-size="8.4" text-anchor="end" fill="#000" stroke="#000" stroke-width="0.07">1.5</text>
<line x1="396.3" y1="384.2" x2="399.3" y2="384.2" stroke="#1a1a1a" stroke-width="1.25" stroke-linecap="butt"/>
<text x="392.7" y="386.8" font-size="8.4" text-anchor="end" fill="#000" stroke="#000" stroke-width="0.07">2.0</text>
<line x1="398.6" y1="459.7" x2="511.5" y2="459.7" stroke="#1a1a1a" stroke-width="1.4" stroke-linecap="butt"/>
<line x1="408.4" y1="459.7" x2="408.4" y2="462.5" stroke="#1a1a1a" stroke-width="1.25" stroke-linecap="butt"/>
<line x1="422.1" y1="459.7" x2="422.1" y2="462.5" stroke="#1a1a1a" stroke-width="1.25" stroke-linecap="butt"/>
<line x1="435.8" y1="459.7" x2="435.8" y2="462.5" stroke="#1a1a1a" stroke-width="1.25" stroke-linecap="butt"/>
<line x1="449.5" y1="459.7" x2="449.5" y2="462.5" stroke="#1a1a1a" stroke-width="1.25" stroke-linecap="butt"/>
<line x1="463.1" y1="459.7" x2="463.1" y2="462.5" stroke="#1a1a1a" stroke-width="1.25" stroke-linecap="butt"/>
<line x1="476.8" y1="459.7" x2="476.8" y2="462.5" stroke="#1a1a1a" stroke-width="1.25" stroke-linecap="butt"/>
<line x1="490.4" y1="459.7" x2="490.4" y2="462.5" stroke="#1a1a1a" stroke-width="1.25" stroke-linecap="butt"/>
<line x1="504" y1="459.7" x2="504" y2="462.5" stroke="#1a1a1a" stroke-width="1.25" stroke-linecap="butt"/>
<text x="412" y="469.3" font-size="8.8" text-anchor="end" fill="#000" stroke="#000" stroke-width="0.03" transform="rotate(-45 412 469.3)">DMSO</text>
<text x="425.7" y="469.3" font-size="8.8" text-anchor="end" fill="#000" stroke="#000" stroke-width="0.03" transform="rotate(-45 425.7 469.3)">PF-48</text>
<text x="439.4" y="469.3" font-size="8.3" text-anchor="end" fill="#000" stroke="#000" stroke-width="0.03" textLength="21.64" lengthAdjust="spacingAndGlyphs" transform="rotate(-45 439.4 469.3)">umbra</text>
<text x="453.1" y="469.3" font-size="8.3" text-anchor="end" fill="#000" stroke="#000" stroke-width="0.03" textLength="41.62" lengthAdjust="spacingAndGlyphs" transform="rotate(-45 453.1 469.3)">umbra + PF</text>
<text x="466.7" y="469.3" font-size="8.3" text-anchor="end" fill="#000" stroke="#000" stroke-width="0.03" textLength="17.53" lengthAdjust="spacingAndGlyphs" transform="rotate(-45 466.7 469.3)">idela</text>
<text x="480.4" y="469.3" font-size="8.3" text-anchor="end" fill="#000" stroke="#000" stroke-width="0.03" textLength="35.9" lengthAdjust="spacingAndGlyphs" transform="rotate(-45 480.4 469.3)">idela + PF</text>
<text x="494" y="469.3" font-size="8.3" text-anchor="end" fill="#000" stroke="#000" stroke-width="0.03" textLength="12.51" lengthAdjust="spacingAndGlyphs" transform="rotate(-45 494 469.3)">duv</text>
<text x="507.6" y="469.3" font-size="8.3" text-anchor="end" fill="#000" stroke="#000" stroke-width="0.03" textLength="33.44" lengthAdjust="spacingAndGlyphs" transform="rotate(-45 507.6 469.3)">duv + PF</text>
<text x="374.9" y="420.1" font-size="8.8" text-anchor="middle" fill="#000" stroke="#000" stroke-width="0.3" textLength="59.3" lengthAdjust="spacingAndGlyphs" transform="rotate(-90 374.9 420.1)">Fold change of MFI</text>
<line x1="405.4" y1="421.8" x2="411.1" y2="421.8" stroke="#3f0d5c" stroke-width="2.8" stroke-linecap="round"/>
<circle cx="422.23" cy="400.85" r="1.55" fill="none" stroke="#5fa0dc" stroke-width="0.95"/>
<circle cx="424.54" cy="405" r="1.55" fill="none" stroke="#5fa0dc" stroke-width="0.95"/>
<circle cx="419.92" cy="407.31" r="1.55" fill="none" stroke="#5fa0dc" stroke-width="0.95"/>
<circle cx="423.85" cy="409.16" r="1.55" fill="none" stroke="#5fa0dc" stroke-width="0.95"/>
<circle cx="418.08" cy="412.39" r="1.55" fill="none" stroke="#5fa0dc" stroke-width="0.95"/>
<circle cx="422.69" cy="414.23" r="1.55" fill="none" stroke="#5fa0dc" stroke-width="0.95"/>
<circle cx="425.46" cy="414.7" r="1.55" fill="none" stroke="#5fa0dc" stroke-width="0.95"/>
<circle cx="420.39" cy="416.54" r="1.55" fill="none" stroke="#5fa0dc" stroke-width="0.95"/>
<circle cx="424.54" cy="417.7" r="1.55" fill="none" stroke="#5fa0dc" stroke-width="0.95"/>
<circle cx="421.54" cy="420" r="1.55" fill="none" stroke="#5fa0dc" stroke-width="0.95"/>
<circle cx="419.23" cy="423.93" r="1.55" fill="none" stroke="#5fa0dc" stroke-width="0.95"/>
<circle cx="423.85" cy="423.47" r="1.55" fill="none" stroke="#5fa0dc" stroke-width="0.95"/>
<line x1="422.1" y1="407.31" x2="422.1" y2="420.7" stroke="#5fa0dc" stroke-width="1.05" stroke-linecap="butt"/>
<line x1="418.1" y1="414.23" x2="426.1" y2="414.23" stroke="#5fa0dc" stroke-width="1.05" stroke-linecap="butt"/>
<line x1="419.8" y1="407.31" x2="424.4" y2="407.31" stroke="#5fa0dc" stroke-width="1.05" stroke-linecap="butt"/>
<line x1="419.8" y1="420.7" x2="424.4" y2="420.7" stroke="#5fa0dc" stroke-width="1.05" stroke-linecap="butt"/>
<rect x="429.07" y="416.69" width="3.4" height="3.4" fill="#5fa830"/>
<rect x="432.53" y="416.69" width="3.4" height="3.4" fill="#5fa830"/>
<rect x="434.84" y="418.3" width="3.4" height="3.4" fill="#5fa830"/>
<rect x="430.23" y="419.46" width="3.4" height="3.4" fill="#5fa830"/>
<rect x="433.69" y="421.77" width="3.4" height="3.4" fill="#5fa830"/>
<rect x="431.38" y="423.61" width="3.4" height="3.4" fill="#5fa830"/>
<rect x="436" y="422.92" width="3.4" height="3.4" fill="#5fa830"/>
<rect x="432.53" y="426.38" width="3.4" height="3.4" fill="#5fa830"/>
<rect x="434.38" y="428.69" width="3.4" height="3.4" fill="#5fa830"/>
<rect x="431.38" y="433.77" width="3.4" height="3.4" fill="#5fa830"/>
<line x1="435.8" y1="420.7" x2="435.8" y2="429.93" stroke="#5fa830" stroke-width="1.05" stroke-linecap="butt"/>
<line x1="431.8" y1="424.62" x2="439.8" y2="424.62" stroke="#5fa830" stroke-width="1.05" stroke-linecap="butt"/>
<line x1="433.5" y1="420.7" x2="438.1" y2="420.7" stroke="#5fa830" stroke-width="1.05" stroke-linecap="butt"/>
<line x1="433.5" y1="429.93" x2="438.1" y2="429.93" stroke="#5fa830" stroke-width="1.05" stroke-linecap="butt"/>
<rect x="447.68" y="395.37" width="3.1" height="3.1" fill="none" stroke="#5fa830" stroke-width="0.95"/>
<rect x="448.84" y="412.68" width="3.1" height="3.1" fill="none" stroke="#5fa830" stroke-width="0.95"/>
<rect x="444.68" y="413.84" width="3.1" height="3.1" fill="none" stroke="#5fa830" stroke-width="0.95"/>
<rect x="446.53" y="417.3" width="3.1" height="3.1" fill="none" stroke="#5fa830" stroke-width="0.95"/>
<rect x="449.99" y="416.15" width="3.1" height="3.1" fill="none" stroke="#5fa830" stroke-width="0.95"/>
<rect x="444.22" y="420.76" width="3.1" height="3.1" fill="none" stroke="#5fa830" stroke-width="0.95"/>
<rect x="448.84" y="421.92" width="3.1" height="3.1" fill="none" stroke="#5fa830" stroke-width="0.95"/>
<rect x="446.99" y="428.84" width="3.1" height="3.1" fill="none" stroke="#5fa830" stroke-width="0.95"/>
<rect x="447.68" y="436.22" width="3.1" height="3.1" fill="none" stroke="#5fa830" stroke-width="0.95"/>
<line x1="449.5" y1="410.77" x2="449.5" y2="429.93" stroke="#5fa830" stroke-width="1.05" stroke-linecap="butt"/>
<line x1="445.5" y1="420.7" x2="453.5" y2="420.7" stroke="#5fa830" stroke-width="1.05" stroke-linecap="butt"/>
<line x1="447.2" y1="410.77" x2="451.8" y2="410.77" stroke="#5fa830" stroke-width="1.05" stroke-linecap="butt"/>
<line x1="447.2" y1="429.93" x2="451.8" y2="429.93" stroke="#5fa830" stroke-width="1.05" stroke-linecap="butt"/>
<polygon points="464.24,415.23 466.24,418.74 462.23,418.74" fill="#b3123f"/>
<polygon points="460.77,416.84 462.78,420.35 458.77,420.35" fill="#b3123f"/>
<polygon points="462.39,421.46 464.4,424.97 460.38,424.97" fill="#b3123f"/>
<polygon points="459.16,424.92 461.16,428.43 457.15,428.43" fill="#b3123f"/>
<polygon points="465.39,424.92 467.4,428.43 463.38,428.43" fill="#b3123f"/>
<polygon points="461.93,427.23 463.93,430.74 459.92,430.74" fill="#b3123f"/>
<polygon points="464.24,430.69 466.24,434.2 462.23,434.2" fill="#b3123f"/>
<polygon points="460.31,434.15 462.32,437.66 458.31,437.66" fill="#b3123f"/>
<polygon points="464.24,435.31 466.24,438.82 462.23,438.82" fill="#b3123f"/>
<polygon points="460.77,438.77 462.78,442.28 458.77,442.28" fill="#b3123f"/>
<line x1="463.1" y1="420" x2="463.1" y2="433.85" stroke="#b3123f" stroke-width="1.05" stroke-linecap="butt"/>
<line x1="459.1" y1="426.93" x2="467.1" y2="426.93" stroke="#b3123f" stroke-width="1.05" stroke-linecap="butt"/>
<line x1="460.8" y1="420" x2="465.4" y2="420" stroke="#b3123f" stroke-width="1.05" stroke-linecap="butt"/>
<line x1="460.8" y1="433.85" x2="465.4" y2="433.85" stroke="#b3123f" stroke-width="1.05" stroke-linecap="butt"/>
<polygon points="476.24,394.45 478.02,397.57 474.45,397.57" fill="none" stroke="#b3123f" stroke-width="0.95" stroke-linejoin="miter"/>
<polygon points="473.47,402.76 475.25,405.88 471.68,405.88" fill="none" stroke="#b3123f" stroke-width="0.95" stroke-linejoin="miter"/>
<polygon points="479.93,403.22 481.71,406.34 478.14,406.34" fill="none" stroke="#b3123f" stroke-width="0.95" stroke-linejoin="miter"/>
<polygon points="475.78,406.68 477.56,409.8 473.99,409.8" fill="none" stroke="#b3123f" stroke-width="0.95" stroke-linejoin="miter"/>
<polygon points="473.01,414.76 474.79,417.88 471.22,417.88" fill="none" stroke="#b3123f" stroke-width="0.95" stroke-linejoin="miter"/>
<polygon points="478.08,414.76 479.87,417.88 476.3,417.88" fill="none" stroke="#b3123f" stroke-width="0.95" stroke-linejoin="miter"/>
<polygon points="474.62,418.22 476.41,421.34 472.84,421.34" fill="none" stroke="#b3123f" stroke-width="0.95" stroke-linejoin="miter"/>
<polygon points="479.24,420.53 481.02,423.65 477.45,423.65" fill="none" stroke="#b3123f" stroke-width="0.95" stroke-linejoin="miter"/>
<polygon points="473.47,422.83 475.25,425.96 471.68,425.96" fill="none" stroke="#b3123f" stroke-width="0.95" stroke-linejoin="miter"/>
<polygon points="476.93,423.99 478.71,427.11 475.14,427.11" fill="none" stroke="#b3123f" stroke-width="0.95" stroke-linejoin="miter"/>
<polygon points="475.78,428.6 477.56,431.73 473.99,431.73" fill="none" stroke="#b3123f" stroke-width="0.95" stroke-linejoin="miter"/>
<polygon points="479.24,428.6 481.02,431.73 477.45,431.73" fill="none" stroke="#b3123f" stroke-width="0.95" stroke-linejoin="miter"/>
<polygon points="473.47,433.22 475.25,436.34 471.68,436.34" fill="none" stroke="#b3123f" stroke-width="0.95" stroke-linejoin="miter"/>
<polygon points="476.24,437.84 478.02,440.96 474.45,440.96" fill="none" stroke="#b3123f" stroke-width="0.95" stroke-linejoin="miter"/>
<line x1="476.8" y1="407.31" x2="476.8" y2="431.54" stroke="#b3123f" stroke-width="1.05" stroke-linecap="butt"/>
<line x1="472.8" y1="420" x2="480.8" y2="420" stroke="#b3123f" stroke-width="1.05" stroke-linecap="butt"/>
<line x1="474.5" y1="407.31" x2="479.1" y2="407.31" stroke="#b3123f" stroke-width="1.05" stroke-linecap="butt"/>
<line x1="474.5" y1="431.54" x2="479.1" y2="431.54" stroke="#b3123f" stroke-width="1.05" stroke-linecap="butt"/>
<polygon points="489.16,418.55 491.17,415.04 487.16,415.04" fill="#1f4e8f"/>
<polygon points="487.31,425.47 489.32,421.96 485.31,421.96" fill="#1f4e8f"/>
<polygon points="491.93,425.47 493.94,421.96 489.92,421.96" fill="#1f4e8f"/>
<polygon points="488.47,427.78 490.47,424.27 486.46,424.27" fill="#1f4e8f"/>
<polygon points="490.78,430.09 492.78,426.58 488.77,426.58" fill="#1f4e8f"/>
<polygon points="486.85,432.39 488.86,428.88 484.85,428.88" fill="#1f4e8f"/>
<polygon points="489.62,434.7 491.63,431.19 487.62,431.19" fill="#1f4e8f"/>
<polygon points="487.31,437.47 489.32,433.96 485.31,433.96" fill="#1f4e8f"/>
<polygon points="490.78,439.32 492.78,435.81 488.77,435.81" fill="#1f4e8f"/>
<polygon points="488.47,443.93 490.47,440.42 486.46,440.42" fill="#1f4e8f"/>
<polygon points="489.62,445.09 491.63,441.58 487.62,441.58" fill="#1f4e8f"/>
<line x1="490.4" y1="423.47" x2="490.4" y2="435" stroke="#1f4e8f" stroke-width="1.05" stroke-linecap="butt"/>
<line x1="486.4" y1="430.39" x2="494.4" y2="430.39" stroke="#1f4e8f" stroke-width="1.05" stroke-linecap="butt"/>
<line x1="488.1" y1="423.47" x2="492.7" y2="423.47" stroke="#1f4e8f" stroke-width="1.05" stroke-linecap="butt"/>
<line x1="488.1" y1="435" x2="492.7" y2="435" stroke="#1f4e8f" stroke-width="1.05" stroke-linecap="butt"/>
<polygon points="501.16,410.94 502.95,407.82 499.38,407.82" fill="none" stroke="#1f4e8f" stroke-width="0.95"/>
<polygon points="505.78,409.1 507.56,405.97 503.99,405.97" fill="none" stroke="#1f4e8f" stroke-width="0.95"/>
<polygon points="503.47,417.87 505.25,414.74 501.68,414.74" fill="none" stroke="#1f4e8f" stroke-width="0.95"/>
<polygon points="500.7,421.79 502.49,418.66 498.92,418.66" fill="none" stroke="#1f4e8f" stroke-width="0.95"/>
<polygon points="506.24,418.79 508.02,415.66 504.45,415.66" fill="none" stroke="#1f4e8f" stroke-width="0.95"/>
<polygon points="502.32,428.71 504.1,425.59 500.53,425.59" fill="none" stroke="#1f4e8f" stroke-width="0.95"/>
<polygon points="505.32,429.87 507.1,426.74 503.53,426.74" fill="none" stroke="#1f4e8f" stroke-width="0.95"/>
<polygon points="500.01,431.02 501.79,427.9 498.22,427.9" fill="none" stroke="#1f4e8f" stroke-width="0.95"/>
<polygon points="503.47,437.94 505.25,434.82 501.68,434.82" fill="none" stroke="#1f4e8f" stroke-width="0.95"/>
<polygon points="501.16,439.1 502.95,435.97 499.38,435.97" fill="none" stroke="#1f4e8f" stroke-width="0.95"/>
<polygon points="506.93,439.1 508.72,435.97 505.15,435.97" fill="none" stroke="#1f4e8f" stroke-width="0.95"/>
<polygon points="502.32,443.71 504.1,440.59 500.53,440.59" fill="none" stroke="#1f4e8f" stroke-width="0.95"/>
<polygon points="505.32,441.41 507.1,438.28 503.53,438.28" fill="none" stroke="#1f4e8f" stroke-width="0.95"/>
<line x1="504" y1="414.7" x2="504" y2="435.47" stroke="#1f4e8f" stroke-width="1.05" stroke-linecap="butt"/>
<line x1="500" y1="426.93" x2="508" y2="426.93" stroke="#1f4e8f" stroke-width="1.05" stroke-linecap="butt"/>
<line x1="501.7" y1="414.7" x2="506.3" y2="414.7" stroke="#1f4e8f" stroke-width="1.05" stroke-linecap="butt"/>
<line x1="501.7" y1="435.47" x2="506.3" y2="435.47" stroke="#1f4e8f" stroke-width="1.05" stroke-linecap="butt"/>
<line x1="407" y1="395.5" x2="421.2" y2="395.5" stroke="#555555" stroke-width="1.25" stroke-linecap="butt"/>
<circle cx="410.7" cy="392.8" r="0.92" fill="#222"/>
<circle cx="414.1" cy="392.8" r="0.92" fill="#222"/>
<circle cx="417.5" cy="392.8" r="0.92" fill="#222"/>
<line x1="436.1" y1="393.5" x2="449.9" y2="393.5" stroke="#555555" stroke-width="1.25" stroke-linecap="butt"/>
<circle cx="443" cy="390.8" r="0.92" fill="#222"/>
<line x1="461.9" y1="392.5" x2="476.5" y2="392.5" stroke="#555555" stroke-width="1.25" stroke-linecap="butt"/>
<circle cx="469.2" cy="389.8" r="0.92" fill="#222"/>
<line x1="489.6" y1="404.5" x2="503.9" y2="404.5" stroke="#555555" stroke-width="1.25" stroke-linecap="butt"/>
<text x="496.75" y="402.5" font-size="8.8" text-anchor="middle" font-family="Liberation Serif, serif" font-style="italic" fill="#333" stroke="#333" stroke-width="0.05">ns</text>
<rect x="0.5" y="0.5" width="519" height="507" fill="none" stroke="#000" stroke-width="1"/>
</svg></body></html>
